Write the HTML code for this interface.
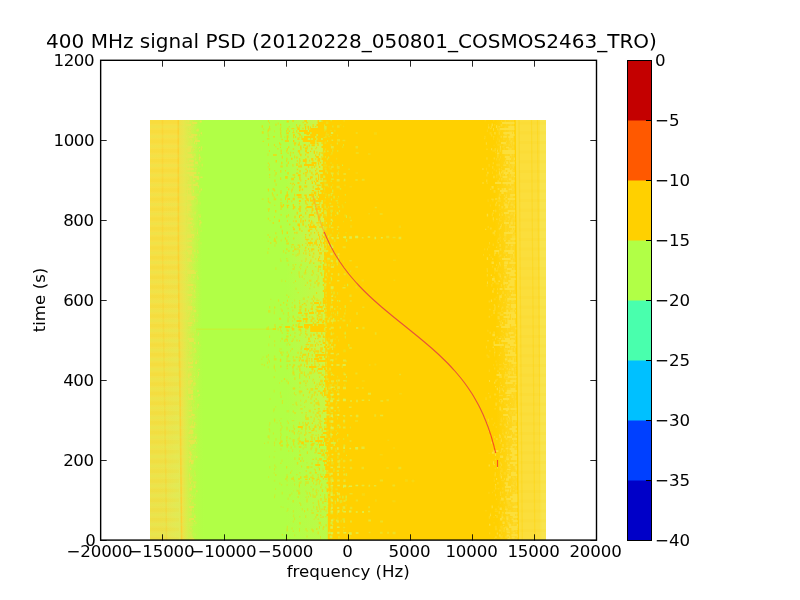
<!DOCTYPE html><html><head><meta charset="utf-8"><title>400 MHz signal PSD</title>
<style>html,body{margin:0;padding:0;background:#fff;}svg{display:block;}text{font-family:"DejaVu Sans","Liberation Sans",sans-serif;fill:#000;}</style></head><body>
<svg width="800" height="600" viewBox="0 0 800 600">
<rect x="0" y="0" width="800" height="600" fill="#fff"/>
<defs>
<clipPath id="hc"><rect x="150" y="120" width="396" height="420"/></clipPath>
<linearGradient id="lg" x1="0" y1="0" x2="0" y2="1"><stop offset="0" stop-color="#f9de44"/><stop offset="0.6" stop-color="#f4e046"/><stop offset="1" stop-color="#ece24c"/></linearGradient>
<linearGradient id="lt" x1="0" y1="0" x2="1" y2="0"><stop offset="0" stop-color="#f2e046"/><stop offset="0.25" stop-color="#e9e64c"/><stop offset="0.6" stop-color="#cdf34a"/><stop offset="0.85" stop-color="#b9fb47"/><stop offset="1" stop-color="#b1ff46"/></linearGradient>
<linearGradient id="rt" x1="0" y1="0" x2="1" y2="0"><stop offset="0" stop-color="#ffd000"/><stop offset="0.35" stop-color="#fdd618"/><stop offset="0.4" stop-color="#fbdc30"/><stop offset="0.85" stop-color="#fae038"/><stop offset="0.88" stop-color="#f5e650"/><stop offset="1" stop-color="#f4e854"/></linearGradient>
</defs>
<g clip-path="url(#hc)">
<rect x="150" y="120" width="396" height="420" fill="#ffd000"/>
<rect x="150" y="120" width="36" height="420" fill="url(#lg)"/>
<rect x="186" y="120" width="15" height="420" fill="#b1ff46"/>
<rect x="200.5" y="120" width="130" height="420" fill="#b1ff46"/>
<g transform="translate(-0.943,0) skewX(0.45)">
<rect x="515.7" y="120" width="34" height="420" fill="#fbde3c"/>
<path d="M519 120v420M531.5 120v420M537.5 120v420" stroke="#ffd000" stroke-width="1.2" stroke-opacity="0.35" fill="none"/>
</g>
<rect x="540" y="120" width="6" height="420" fill="#f7e858" opacity="0.6"/>
<linearGradient id="gt" gradientUnits="userSpaceOnUse" x1="158" y1="0" x2="178" y2="0"><stop offset="0" stop-color="#dcee5c" stop-opacity="0"/><stop offset="1" stop-color="#dcee5c" stop-opacity="0.8"/></linearGradient>
<g transform="translate(-0.943,0) skewX(0.45)">
<rect x="158" y="200" width="20" height="70" fill="url(#gt)" opacity="0.15"/>
<rect x="158" y="270" width="20" height="70" fill="url(#gt)" opacity="0.3"/>
<rect x="158" y="340" width="20" height="70" fill="url(#gt)" opacity="0.5"/>
<rect x="158" y="410" width="20" height="70" fill="url(#gt)" opacity="0.7"/>
<rect x="158" y="480" width="20" height="60" fill="url(#gt)" opacity="0.9"/>
<rect x="178" y="120" width="23" height="420" fill="url(#lt)"/>
<linearGradient id="gg" gradientUnits="userSpaceOnUse" x1="179" y1="0" x2="191" y2="0"><stop offset="0" stop-color="#b1ff46" stop-opacity="0"/><stop offset="1" stop-color="#b1ff46" stop-opacity="1"/></linearGradient>
<rect x="179" y="250" width="22" height="70" fill="url(#gg)" opacity="0.15"/>
<rect x="179" y="320" width="22" height="70" fill="url(#gg)" opacity="0.35"/>
<rect x="179" y="390" width="22" height="70" fill="url(#gg)" opacity="0.55"/>
<rect x="179" y="460" width="22" height="80" fill="url(#gg)" opacity="0.75"/>
</g>
<path d="M178.3 120L178.4 250L179 325L180 400L180.9 475L181.5 540" stroke="#ffc824" stroke-width="1.6" stroke-opacity="0.6" fill="none"/>
<path d="M162.5 120L162.6 250L163.4 325L164.6 400L165.8 475L166.5 540" stroke="#ffc828" stroke-width="1.5" stroke-opacity="0.3" fill="none"/>
<linearGradient id="du" gradientUnits="userSpaceOnUse" x1="286" y1="0" x2="326" y2="0"><stop offset="0" stop-color="#b1ff46"/><stop offset="0.5" stop-color="#cbf34a"/><stop offset="1" stop-color="#e8e848"/></linearGradient>
<rect x="286" y="120" width="44" height="142" fill="url(#du)" opacity="0.7"/>
<rect x="286" y="262" width="44" height="38" fill="url(#du)" opacity="0.4"/>
<rect x="286" y="300" width="44" height="68" fill="url(#du)" opacity="0.55"/>
<rect x="286" y="368" width="44" height="72" fill="url(#du)" opacity="0.4"/>
<rect x="286" y="440" width="44" height="100" fill="url(#du)" opacity="0.2"/>
<path d="M267.9 121.0h1.0M261.6 126.5h1.3M269.0 127.1h1.1M279.9 129.4h1.0M286.9 129.1h1.9M267.5 130.8h1.3M280.3 131.4h1.0M261.8 132.5h1.9M268.0 144.8h1.0M280.5 150.7h1.4M286.1 151.2h1.3M286.3 159.1h1.2M268.8 169.2h1.3M280.1 171.4h1.3M280.0 178.6h1.2M274.2 180.9h1.4M275.6 184.6h0.9M272.6 189.3h1.8M280.4 191.2h1.2M272.5 195.3h1.0M285.0 196.5h2.5M280.5 199.5h0.9M286.9 201.5h1.1M287.9 215.2h1.0M280.3 226.9h1.3M281.9 232.9h1.1M274.0 239.0h1.3M273.7 240.8h2.4M299.0 246.7h1.2M297.5 248.6h1.0M298.8 250.7h1.1M298.8 253.3h0.9M305.3 253.5h1.3M297.4 254.6h1.0M305.5 259.1h1.1M300.5 265.0h1.1M317.7 269.2h1.3M305.0 271.2h1.0M311.9 271.3h1.4M298.6 272.6h1.0M312.9 273.0h0.9M301.7 276.7h0.9M317.8 276.9h0.9M317.5 279.2h0.9M314.4 282.7h1.3M317.4 285.2h1.3M313.0 296.7h1.3M299.1 303.0h1.0M299.2 306.9h2.6M299.2 311.2h1.9M292.6 316.9h1.3M287.5 321.1h1.0M303.0 320.6h0.9M297.8 324.9h1.8M300.2 331.0h1.2M292.6 339.5h1.0M284.2 340.8h1.3M310.0 345.4h3.4M301.2 347.1h1.1M300.6 349.0h1.1M280.4 352.7h1.3M288.0 355.1h0.9M292.8 357.3h1.0M279.9 360.6h1.3M286.8 365.5h0.9M273.7 367.2h1.1M299.3 370.5h1.3M292.4 372.8h2.0M300.5 372.8h2.1M303.9 372.9h1.0M309.2 372.9h2.7M299.2 374.6h1.0M299.1 377.4h1.1M309.0 377.4h1.0M294.3 378.6h1.1M287.7 382.9h1.1M299.2 383.0h1.9M310.5 389.4h2.7M311.6 395.3h1.2M313.8 394.7h1.0M305.4 401.1h1.2M295.6 403.1h1.1M315.4 403.3h3.9M313.8 405.5h1.0M308.7 411.0h2.1M305.6 415.3h1.0M315.3 415.4h1.1M319.9 416.9h0.9M305.4 418.6h3.5M313.7 418.9h1.2M319.4 420.6h1.4M305.4 427.0h1.2M324.1 427.4h1.2M293.7 433.1h1.3M300.6 433.0h0.9M305.3 433.1h1.3M286.4 437.4h1.1M313.9 438.6h1.2M280.2 441.5h2.4M292.5 440.6h2.1M311.5 447.2h1.0M310.5 448.9h1.3M315.3 449.1h2.0M306.8 452.6h1.2M298.6 458.7h1.3M315.6 458.7h1.2M296.9 463.3h1.3M286.1 467.2h1.1M306.6 467.3h2.7M314.9 470.5h1.1M286.4 477.3h1.3M316.4 483.5h0.9M318.8 483.1h1.1M298.8 485.1h1.1M321.2 484.8h1.1M315.6 491.1h0.9M298.1 493.1h2.1M309.3 493.2h0.9M324.0 497.1h1.3M292.6 501.3h1.1M306.4 501.1h1.2M317.8 501.1h1.0M325.6 510.6h0.9M315.4 517.2h0.9M299.3 523.2h1.3M318.7 523.0h2.2M325.6 525.3h1.1M319.1 527.4h0.9M322.6 528.8h1.0M312.4 530.9h1.3M317.6 532.9h1.1" stroke="#ffd000" stroke-width="2.6" stroke-opacity="0.6" fill="none"/>
<path d="M286.6 121.5h2.2M304.3 121.0h2.7M280.2 124.8h1.0M296.2 124.9h0.9M296.7 127.2h1.1M308.0 129.1h1.3M286.2 131.1h0.9M280.2 133.4h1.0M286.3 133.2h2.5M298.9 134.7h2.1M294.9 137.1h1.2M286.8 139.1h1.2M284.9 141.1h4.0M279.2 143.3h0.9M293.8 143.3h2.4M294.3 144.8h1.1M297.8 144.7h1.9M288.0 147.2h1.3M290.3 152.7h0.9M289.9 155.3h0.9M299.4 161.3h1.1M309.2 160.7h0.9M300.6 165.3h0.9M298.1 166.6h3.9M299.2 179.3h1.2M300.2 180.6h1.1M304.2 186.6h3.0M288.1 189.3h1.1M299.4 189.1h1.2M280.5 192.9h0.9M297.7 197.2h4.1M311.4 196.6h2.0M287.4 198.9h2.6M304.9 201.1h1.2M280.4 205.3h1.3M280.6 206.8h2.2M311.3 212.5h1.0M300.5 219.1h1.0M308.0 224.9h1.3M305.3 226.6h1.1M293.0 229.2h2.0M301.4 230.9h1.1M296.3 232.7h1.2M308.9 235.3h1.3M305.1 237.2h0.9M284.9 238.6h1.1M311.4 239.0h1.2M306.6 240.5h1.0M316.4 245.0h1.4M308.1 249.1h1.0M311.2 249.2h3.1M313.1 253.4h1.2M316.2 281.1h1.3M316.1 293.0h1.0M312.9 301.0h1.0M294.2 307.3h1.3M310.6 308.9h2.4M317.4 309.2h0.9M304.9 310.8h1.3M308.1 310.7h0.9M298.1 313.0h3.9M315.3 312.8h1.0M316.6 315.4h2.1M311.6 316.9h1.1M311.8 318.6h2.6M298.6 329.5h2.5M305.1 333.4h1.1M316.4 333.3h1.3M306.3 334.7h1.2M312.9 334.7h2.0M322.9 335.4h0.9M310.3 336.6h1.3M314.1 341.5h0.9M314.2 349.3h1.3M315.3 351.3h3.9M317.4 352.6h1.2M302.5 354.8h3.7M298.8 360.6h1.2M301.3 360.6h2.7M314.3 363.2h1.1M311.3 364.9h1.1M314.3 365.4h1.3M311.5 369.0h2.0M316.9 370.7h0.9M313.9 382.8h1.1M321.6 383.5h1.0M322.9 384.9h1.2M305.4 424.8h2.4M317.6 425.2h1.0M308.7 426.9h1.1M319.0 427.2h2.8M321.9 429.4h1.1M317.7 437.4h1.3M305.0 439.2h1.2M298.7 441.4h2.4M304.9 441.2h4.0M317.9 442.6h1.2M305.4 444.9h0.9M319.1 446.9h0.9M323.7 450.6h1.2M322.8 453.3h1.2M324.3 457.5h1.1M317.5 462.7h1.1M324.0 462.8h0.9M309.1 478.9h0.9M323.7 509.3h1.2" stroke="#ffd000" stroke-width="2" stroke-opacity="0.8" fill="none"/>
<path d="M292.5 121.0h1.1M321.5 121.0h10.0M317.8 123.0h13.8M316.5 125.0h15.0M304.9 127.0h1.3M317.8 127.0h13.8M305.0 128.7h1.1M310.2 129.0h21.2M299.0 131.0h8.8M309.0 131.0h22.5M304.0 133.0h6.2M311.5 133.0h20.0M310.2 135.0h6.2M317.8 135.0h13.8M304.0 137.0h11.2M316.5 137.0h15.0M301.5 139.0h6.2M312.8 139.1h3.5M317.4 138.9h3.7M322.8 139.0h8.8M293.0 141.1h1.3M302.8 141.0h12.5M316.5 141.0h15.0M310.2 143.0h5.0M321.5 143.0h10.0M303.7 145.0h2.0M308.7 145.4h1.1M311.5 145.2h3.3M317.4 145.0h1.3M322.8 145.0h8.8M321.5 147.0h10.0M304.9 148.6h2.7M311.2 148.7h1.2M322.8 149.0h8.8M313.7 151.4h1.2M322.8 151.0h8.8M316.4 152.5h1.0M321.5 153.0h10.0M305.2 154.7h0.9M315.1 155.4h1.1M318.7 154.6h1.2M322.8 155.0h8.8M296.4 157.4h1.1M307.5 156.7h1.0M316.2 157.0h2.7M321.5 157.0h10.0M291.1 158.8h1.3M305.1 159.3h1.3M317.6 158.9h2.7M321.5 159.0h10.0M312.5 161.0h0.9M317.4 160.7h2.7M322.8 161.0h8.8M311.5 163.0h5.0M317.9 163.2h1.3M322.8 163.0h8.8M304.0 165.0h10.0M321.5 165.0h10.0M307.9 166.8h1.2M311.4 167.4h1.2M318.9 166.9h1.4M322.8 167.0h8.8M316.4 169.0h0.9M322.8 169.0h8.8M319.0 171.0h12.5M315.6 173.5h2.3M322.8 173.0h8.8M297.8 175.2h2.8M318.0 175.2h1.1M320.2 175.0h11.2M299.2 177.4h1.3M310.1 177.3h2.7M318.0 177.0h1.1M320.2 177.0h11.2M307.7 178.9h1.3M317.9 179.0h1.2M320.4 179.2h1.3M322.8 179.0h8.8M316.2 181.1h2.2M322.8 181.0h8.8M304.9 183.0h1.0M311.7 182.9h1.3M320.2 183.0h11.2M321.5 185.0h10.0M321.5 187.0h10.0M301.7 189.5h1.4M315.2 189.0h5.0M322.8 189.0h8.8M317.7 191.4h1.4M320.2 191.0h11.2M311.4 193.2h1.2M321.5 193.0h10.0M296.5 195.0h5.0M309.0 195.0h5.0M317.8 195.0h13.8M319.0 197.0h12.5M312.7 199.5h3.1M317.8 199.0h13.8M298.9 201.0h2.0M310.1 200.8h3.2M315.2 201.0h6.2M322.8 201.0h8.8M319.3 203.0h1.0M322.8 203.0h8.8M311.6 204.6h1.9M321.5 205.0h10.0M306.5 207.0h6.2M321.5 207.0h10.0M305.4 208.5h1.1M315.2 209.0h6.2M322.8 209.0h8.8M316.1 210.6h1.1M322.8 211.0h8.8M321.5 213.0h10.0M309.0 215.0h5.0M322.8 215.0h8.8M322.8 217.0h8.8M324.0 219.0h7.5M295.4 221.3h1.3M302.6 221.0h1.2M304.9 220.5h1.0M308.6 220.8h1.2M311.1 221.2h1.0M324.0 221.0h7.5M310.5 222.9h1.2M321.5 223.0h10.0M302.5 224.8h1.3M312.7 225.5h2.1M321.5 225.0h10.0M298.7 226.6h1.0M309.0 227.0h7.5M324.0 227.0h7.5M315.1 228.6h1.0M324.0 229.0h7.5M307.8 230.8h2.2M316.4 230.6h0.9M324.0 231.0h7.5M317.7 232.7h1.1M322.8 233.0h8.8M318.0 235.1h1.3M321.7 235.4h1.3M324.0 235.0h7.5M322.8 237.0h8.8M318.9 238.9h0.9M321.5 238.7h1.3M324.0 239.0h7.5M324.0 241.0h7.5M307.8 243.0h5.0M320.4 242.7h1.4M322.8 243.0h8.8M319.0 245.0h1.1M324.0 245.0h7.5M324.0 247.0h7.5M324.0 249.0h7.5M317.9 250.6h1.1M322.8 251.0h8.8M324.0 253.0h7.5M324.0 255.0h7.5M324.0 257.0h7.5M318.0 259.2h1.0M324.0 259.0h7.5M322.8 261.0h8.8M324.0 263.0h7.5M322.8 265.0h8.8M322.8 267.0h8.8M322.8 269.0h8.8M324.0 271.0h7.5M324.0 273.0h7.5M324.0 275.0h7.5M324.0 277.0h7.5M322.8 279.0h8.8M322.8 281.0h8.8M324.0 283.0h7.5M322.8 285.0h8.8M324.0 287.0h7.5M324.0 289.0h7.5M322.8 291.0h8.8M324.0 293.0h7.5M324.0 295.0h7.5M324.0 297.0h7.5M322.8 299.0h8.8M322.8 301.0h8.8M314.0 303.0h5.0M322.8 303.0h8.8M322.9 305.5h1.0M325.2 305.0h6.2M316.5 307.0h6.2M325.2 307.0h6.2M324.0 309.0h7.5M316.5 311.0h7.5M325.2 311.0h6.2M309.0 313.0h5.0M324.0 313.0h7.5M325.2 315.0h6.2M325.2 317.0h6.2M302.8 319.0h5.0M318.6 319.5h3.8M324.0 319.0h7.5M296.5 321.0h5.0M322.8 321.0h8.8M321.9 322.6h2.2M325.2 323.0h6.2M304.0 325.0h8.8M317.8 325.0h13.8M285.2 327.0h5.0M297.8 327.0h5.0M304.0 327.0h5.0M310.2 327.0h21.2M310.2 329.0h21.2M310.2 331.0h21.2M325.2 333.0h6.2M317.5 335.5h2.3M325.2 335.0h6.2M322.8 337.0h8.8M325.2 339.0h6.2M325.2 341.0h6.2M322.8 343.0h8.8M325.2 345.0h6.2M324.0 347.0h7.5M304.0 349.0h5.0M325.2 349.0h6.2M325.2 351.0h6.2M325.2 353.0h6.2M315.2 355.0h16.2M318.8 357.4h3.4M324.0 357.0h7.5M314.0 359.0h5.0M325.2 359.0h6.2M316.5 361.0h15.0M325.2 363.0h6.2M325.2 365.0h6.2M309.0 367.0h7.5M321.5 367.0h10.0M317.8 369.0h5.0M324.0 369.0h7.5M325.2 371.0h6.2M325.2 373.0h6.2M325.2 375.0h6.2M324.0 377.0h7.5M325.2 379.0h6.2M324.0 381.0h7.5M325.2 383.0h6.2M325.2 385.0h6.2M325.2 387.0h6.2M324.0 389.0h7.5M322.8 391.0h8.8M324.0 393.0h7.5M324.0 395.0h7.5M326.5 397.0h5.0M326.5 399.0h5.0M325.2 401.0h6.2M326.5 403.0h5.0M325.2 405.0h6.2M326.5 407.0h5.0M326.5 409.0h5.0M322.8 411.0h8.8M326.5 413.0h5.0M326.5 415.0h5.0M326.5 417.0h5.0M324.0 419.0h7.5M325.2 421.0h6.2M324.0 423.0h7.5M326.5 425.0h5.0M297.8 427.0h5.0M326.5 427.0h5.0M324.0 429.0h7.5M326.5 431.0h5.0M322.8 433.0h8.8M326.5 435.0h5.0M320.2 437.0h5.0M326.5 437.0h5.0M324.0 439.0h7.5M315.2 441.0h7.5M324.0 441.0h7.5M325.2 443.0h6.2M319.0 445.0h5.0M325.2 445.0h6.2M326.5 447.0h5.0M326.5 449.0h5.0M326.5 451.0h5.0M325.2 453.0h6.2M326.5 455.0h5.0M326.5 457.0h5.0M326.5 459.0h5.0M322.8 461.0h8.8M326.5 463.0h5.0M315.2 465.0h5.0M324.0 465.0h7.5M325.2 467.0h6.2M325.2 469.0h6.2M326.5 471.0h5.0M326.5 473.0h5.0M325.2 475.0h6.2M324.0 477.0h7.5M327.8 479.0h3.8M327.8 481.0h3.8M326.5 483.0h5.0M327.8 485.0h3.8M327.8 487.0h3.8M326.5 489.0h5.0M326.5 491.0h5.0M327.8 493.0h3.8M327.8 495.0h3.8M327.8 497.0h3.8M327.8 499.0h3.8M327.8 501.0h3.8M327.8 503.0h3.8M327.8 505.0h3.8M327.8 507.0h3.8M327.8 509.0h3.8M327.8 511.0h3.8M327.8 513.0h3.8M326.5 515.0h5.0M327.8 517.0h3.8M327.8 519.0h3.8M327.8 521.0h3.8M327.8 523.0h3.8M327.8 525.0h3.8M327.8 527.0h3.8M327.8 529.0h3.8M327.8 531.0h3.8M327.8 533.0h3.8M327.8 535.0h3.8M327.8 537.0h3.8M327.8 539.0h3.8" stroke="#ffd000" stroke-width="2" stroke-opacity="1.0" fill="none"/>
<path d="M317.6 121.4h1.3M307.6 127.0h1.3M297.4 128.8h2.3M310.1 138.5h1.2M300.2 146.9h1.2M305.1 151.0h1.8M313.8 152.7h1.1M300.2 155.0h1.3M311.2 159.3h2.1M302.8 160.6h3.9M305.3 163.2h1.2M296.3 164.6h1.3M315.3 165.3h1.0M313.8 166.7h1.0M311.3 173.0h1.2M305.4 175.4h1.1M315.6 179.0h1.3M315.1 183.4h1.1M298.9 186.8h2.4M313.7 192.9h2.6M305.4 197.4h1.4M316.5 197.5h1.2M306.3 199.5h2.3M310.2 198.9h0.9M305.4 203.0h1.1M312.7 202.7h2.5M317.4 207.4h2.6M311.7 209.4h1.8M299.4 210.7h1.3M319.4 210.8h1.4M316.4 213.2h1.1M319.3 214.9h2.5M299.0 216.6h1.1M317.8 217.0h2.9M318.1 219.3h0.9M300.3 221.4h1.1M297.5 224.7h2.4M310.1 225.2h1.2M319.1 237.4h1.1M315.4 241.0h1.3M319.9 249.2h1.2M314.1 324.8h2.5M321.2 333.5h1.2M314.9 345.4h1.0M314.2 352.5h1.0M311.3 359.2h1.0M301.2 442.9h2.6" stroke="#ffd000" stroke-width="2.6" stroke-opacity="1.0" fill="none"/>
<path d="M269.0 122.8h0.9M280.2 127.1h1.2M288.7 126.6h1.1M280.6 135.0h1.0M273.0 136.8h2.0M284.3 137.1h0.9M266.9 138.8h2.5M262.6 141.4h1.4M275.3 146.6h1.0M267.8 163.3h1.0M274.2 170.8h1.0M269.0 174.8h1.2M267.7 189.2h1.3M273.7 197.3h1.0M269.2 202.7h1.3M280.0 202.9h2.2M274.3 205.4h0.9M269.2 237.2h1.1M287.8 236.9h1.0M291.4 244.7h2.5M293.8 247.0h1.3M304.9 248.8h1.2M304.3 250.8h2.1M308.8 253.5h1.0M292.5 254.5h1.0M286.4 258.6h0.9M315.0 258.9h1.2M304.9 261.4h1.1M295.1 264.6h1.1M314.9 266.6h1.4M300.2 268.6h0.9M319.9 269.5h1.1M317.6 271.4h1.3M303.7 278.9h0.9M295.0 281.2h1.0M304.9 285.4h1.0M313.6 287.1h1.1M297.7 292.6h0.9M307.6 297.1h1.3M316.6 298.9h1.0M299.2 300.6h0.9M316.2 300.5h3.2M283.0 302.8h1.2M305.6 305.3h1.3M287.6 308.5h0.9M298.9 309.4h2.4M287.7 312.8h1.1M301.5 315.5h1.9M306.1 317.1h1.2M318.1 316.7h2.7M281.7 333.0h1.0M286.9 333.4h1.4M300.4 333.4h1.2M290.0 335.3h1.0M305.0 337.1h1.2M285.3 339.3h2.4M291.2 341.2h1.8M298.9 340.8h1.2M306.8 343.0h0.9M289.1 344.8h1.3M299.9 355.4h1.1M295.6 357.3h2.1M306.3 356.9h2.4M286.3 361.1h4.1M289.2 364.8h1.4M286.7 368.6h1.2M296.6 369.1h1.0M312.7 373.0h0.9M312.7 379.4h1.3M312.5 380.8h0.9M305.2 383.2h1.3M305.3 385.5h1.1M317.9 386.6h1.0M306.8 389.3h1.3M317.9 391.2h2.4M308.8 392.8h1.3M295.2 394.9h1.1M307.9 397.1h1.2M322.9 396.8h1.3M304.1 402.5h1.0M310.2 403.0h2.1M304.1 406.9h1.2M300.3 408.9h2.4M317.7 411.2h3.0M301.4 412.7h1.3M305.6 412.6h1.2M317.8 419.4h1.1M313.1 421.2h1.4M318.6 422.9h2.2M315.2 424.9h0.9M298.1 431.3h1.2M305.0 430.9h0.9M315.5 431.1h1.4M308.6 432.6h2.7M311.4 434.9h2.4M289.4 438.5h1.1M286.3 445.0h2.7M314.4 452.8h1.3M317.5 460.5h1.3M310.4 467.1h2.1M317.7 467.1h1.1M313.9 469.2h0.9M322.6 469.1h0.9M305.5 471.0h1.4M322.6 470.7h1.2M296.4 474.6h1.0M305.6 475.4h1.8M322.8 474.7h0.9M310.2 477.3h3.4M315.6 480.7h2.1M319.1 481.0h2.0M315.5 484.8h1.0M316.2 492.6h1.2M320.0 495.2h1.0M324.2 494.7h1.1M297.6 497.0h1.2M324.3 499.3h2.6M316.3 509.3h1.4M321.4 509.2h1.3M320.1 515.2h1.3M320.4 517.4h1.2M325.3 516.6h1.3M317.8 519.2h1.0" stroke="#ffd000" stroke-width="1.4" stroke-opacity="0.6" fill="none"/>
<path d="M277.7 123.4h0.9M275.3 124.8h1.3M280.4 136.8h1.4M273.9 144.9h1.1M279.9 144.6h1.4M268.9 150.9h1.0M273.0 155.0h3.8M286.1 161.1h0.9M280.3 166.6h2.5M292.7 187.2h1.0M291.7 189.5h1.2M267.9 190.6h1.2M274.0 190.6h1.3M271.8 193.2h1.1M267.7 198.7h1.2M273.7 199.3h2.5M267.9 201.4h1.3M291.2 201.3h1.2M280.5 208.9h1.2M268.1 210.7h1.1M274.1 216.9h0.9M267.8 218.7h1.1M272.6 222.9h1.3M281.6 230.7h1.3M275.3 233.2h1.1M267.6 235.1h0.9M293.1 238.5h1.2M270.3 243.0h1.0M286.3 243.4h2.7M301.9 245.1h1.1M286.1 249.3h1.4M294.0 249.3h2.6M292.6 251.1h1.3M303.0 253.2h1.0M320.1 273.0h1.9M309.2 280.8h2.2M306.8 282.7h1.1M317.4 283.3h2.4M311.6 298.9h1.1M314.1 298.6h1.1M286.9 300.8h1.1M310.2 303.3h2.6M286.1 304.8h1.2M274.1 307.4h1.2M281.4 310.7h1.4M292.4 310.6h0.9M297.5 317.3h1.0M309.2 316.9h1.1M279.0 318.7h2.1M294.0 319.2h1.2M299.3 318.6h1.2M279.2 327.0h2.6M291.3 327.4h1.8M272.8 329.1h3.3M280.6 331.0h1.0M286.6 330.8h2.4M299.4 334.9h1.1M286.2 336.5h2.3M294.2 336.8h1.1M281.5 338.8h1.2M286.6 340.8h1.3M296.4 340.5h1.2M309.1 347.4h1.1M291.7 349.0h1.1M309.0 350.7h1.9M297.4 352.8h1.3M281.5 354.9h1.1M286.6 356.5h1.8M298.8 357.5h1.1M293.1 360.6h2.5M292.9 365.3h2.2M280.1 366.5h1.4M297.7 366.5h2.7M299.1 368.7h1.2M292.7 370.6h0.9M311.9 370.6h0.9M317.8 373.0h4.1M303.9 374.9h1.3M307.5 374.6h1.2M305.5 376.6h1.3M283.9 378.9h1.2M306.7 381.3h1.1M316.6 384.6h1.0M315.1 386.6h1.2M292.7 388.6h2.5M298.8 391.4h3.4M309.1 391.4h1.2M313.9 392.5h2.3M302.8 395.2h1.2M316.8 394.8h1.1M311.3 397.0h1.1M310.5 398.7h1.0M315.5 399.0h1.2M313.8 401.1h1.2M317.7 401.2h1.0M317.8 404.8h1.9M292.7 411.4h1.2M294.3 413.1h1.4M316.5 412.9h2.8M321.8 412.8h1.1M318.8 415.4h2.2M305.0 416.8h0.9M310.5 416.9h1.2M316.7 416.9h1.0M302.4 422.8h1.2M305.0 423.0h1.0M307.6 423.1h1.4M293.9 428.9h1.0M305.2 428.9h1.4M309.2 429.1h1.3M289.1 430.7h1.0M304.1 435.0h1.4M298.7 437.4h1.0M310.5 436.8h2.2M286.2 440.8h1.1M279.0 443.2h2.0M293.0 443.0h1.1M297.7 443.4h1.8M280.3 445.5h2.7M293.0 444.6h1.3M286.7 446.8h1.1M298.8 447.0h2.6M299.2 454.9h1.9M300.1 460.9h1.3M302.9 460.9h0.9M311.5 463.5h1.2M301.2 466.5h0.9M290.2 472.7h1.0M309.4 472.8h2.0M292.8 477.4h1.0M303.8 476.9h3.9M285.4 479.1h0.9M291.2 478.7h2.7M298.1 479.1h2.0M311.8 480.9h1.3M313.1 483.2h0.9M320.2 487.3h1.4M325.2 487.4h1.0M316.2 494.5h1.1M318.0 504.5h1.4M316.2 507.3h1.3M323.7 507.1h2.2M319.4 509.1h0.9M304.0 511.2h1.1M316.2 515.0h1.9M322.5 516.9h1.2M323.1 527.0h1.2M311.4 529.4h1.2M316.2 529.0h1.2" stroke="#ffd000" stroke-width="2" stroke-opacity="0.6" fill="none"/>
<path d="M302.6 122.5h1.1M299.2 125.4h1.3M304.2 124.7h2.0M298.7 127.0h1.2M291.5 128.6h2.7M288.8 131.3h1.3M293.0 131.0h1.0M292.4 132.6h2.0M297.6 133.4h2.2M281.5 139.5h1.2M280.0 147.4h1.0M303.1 147.3h1.1M277.4 148.8h1.0M292.8 149.0h1.3M280.6 153.2h1.4M287.6 153.3h1.0M292.7 152.8h1.1M296.8 161.0h1.1M296.8 169.5h1.3M285.0 170.8h0.9M296.2 173.3h2.0M303.0 173.5h1.3M292.6 175.0h2.5M312.5 174.9h1.2M294.1 177.2h1.0M290.1 183.4h1.2M292.5 183.4h1.4M291.8 184.6h0.9M286.5 187.4h1.2M276.7 195.0h1.0M302.4 198.8h1.0M298.9 203.5h1.1M286.6 205.4h2.5M292.7 208.7h1.3M298.1 209.0h2.6M311.7 210.8h1.3M280.6 214.9h1.0M314.1 216.5h1.0M286.9 221.0h1.0M292.9 221.1h1.2M289.1 224.5h1.3M292.6 227.4h1.2M309.1 229.3h3.2M294.2 232.7h1.2M305.1 234.6h1.2M305.3 239.4h3.9M316.6 239.1h1.4M305.5 243.4h0.9M297.6 245.1h2.0M306.9 245.0h1.1M309.1 245.0h1.8M291.2 247.1h1.0M305.1 247.4h1.4M309.0 255.3h1.4M317.7 260.7h3.8M313.0 263.3h1.3M311.5 275.0h1.1M303.7 303.5h1.8M294.3 305.4h1.1M301.9 304.6h1.3M312.7 304.9h1.1M311.9 311.5h1.2M304.2 313.5h3.7M314.4 321.0h1.3M299.2 323.1h0.9M292.7 325.2h1.3M305.1 328.8h3.2M305.1 331.2h1.3M308.1 341.3h2.6M318.8 341.5h1.9M316.2 343.1h1.3M305.6 344.6h3.6M317.5 344.8h1.3M320.1 344.6h1.9M305.5 347.0h1.3M306.5 350.6h1.2M313.0 351.1h1.3M308.1 353.4h1.1M308.6 360.9h1.3M311.3 361.2h1.3M314.1 361.2h1.2M321.4 375.0h2.3M319.2 377.1h1.0M318.9 383.1h1.4M318.8 384.8h2.7M321.8 386.8h1.0M314.9 388.8h2.9M314.4 409.4h1.3M317.8 408.7h2.0M323.8 408.9h0.9M321.3 421.4h0.9M311.8 423.3h1.1M318.8 429.0h1.0M311.4 430.6h2.3M321.6 431.0h1.0M315.6 435.4h0.9M317.9 434.9h1.0M321.4 434.8h1.4M311.5 443.5h3.2M303.1 444.9h1.3M316.6 444.6h1.2M317.6 453.3h3.5M312.5 459.4h1.3M314.9 472.7h2.0M317.5 474.7h1.0M317.7 477.1h1.3M305.0 479.4h2.6M311.8 478.8h2.7M316.5 479.3h2.8M322.9 478.8h1.1M325.4 479.3h1.0M324.3 501.3h2.1M317.4 511.3h1.2" stroke="#ffd000" stroke-width="1.4" stroke-opacity="0.8" fill="none"/>
<path d="M306.3 122.8h1.4M312.5 125.0h1.3M309.9 127.3h1.0M312.5 126.6h1.2M315.3 126.6h1.0M302.4 128.5h1.2M293.0 135.0h2.0M306.5 134.6h2.7M299.4 137.1h0.9M316.6 143.3h1.9M316.2 147.4h0.9M315.4 148.6h1.0M310.0 151.4h1.2M306.4 152.7h2.6M319.3 152.7h1.1M315.2 159.0h1.0M319.9 162.5h1.3M318.1 164.9h1.1M305.4 169.2h1.2M315.0 170.7h1.3M305.0 172.9h2.3M315.0 174.6h1.2M309.9 178.8h1.3M305.2 180.8h1.2M311.6 181.2h0.9M313.8 181.5h1.2M297.4 183.0h2.1M293.9 184.7h1.0M316.6 185.2h4.1M317.6 187.2h1.3M299.0 190.5h1.4M311.8 190.6h2.2M318.1 193.5h0.9M304.3 195.2h2.4M314.9 195.2h1.2M307.9 200.8h1.0M306.6 204.5h1.1M315.6 204.8h4.1M314.9 206.6h1.0M306.4 210.9h1.2M314.2 213.0h1.3M299.9 215.2h2.1M302.5 216.9h1.2M318.0 220.9h0.9M316.3 222.9h3.4M317.6 225.1h1.0M319.2 227.0h2.7M314.0 232.8h1.1M310.3 241.1h1.0M318.1 247.3h1.2M309.1 251.1h1.1M315.6 309.5h1.1M318.0 320.7h1.2M320.6 321.0h0.9M316.5 322.5h2.7M314.9 338.6h1.1M317.4 338.6h1.1M320.0 351.0h2.3M321.6 352.6h2.6M315.3 356.7h2.6M308.7 358.7h1.1M320.0 358.7h2.2M317.7 362.9h0.9M318.7 364.9h1.3M322.5 365.3h0.9M306.1 366.7h1.3M317.6 366.6h1.0M309.9 441.4h3.0M323.0 442.8h1.0M310.6 445.0h3.2M320.6 476.8h2.2" stroke="#ffd000" stroke-width="1.4" stroke-opacity="1.0" fill="none"/>
<path d="M262.9 129.1h1.3M267.4 132.6h0.9M268.0 136.5h1.2M269.0 177.4h1.2M261.8 199.1h1.8M269.4 220.6h1.3M267.7 241.2h1.0M267.9 248.8h1.2M299.2 267.3h1.0M291.1 272.8h1.0M316.3 274.7h1.0M285.0 281.3h1.0M309.2 288.5h1.1M286.2 295.2h1.2M291.8 302.8h1.1M291.4 307.4h1.2M280.6 309.0h1.0M289.0 317.1h0.9M281.5 324.6h1.2M280.1 341.0h0.9M287.9 343.1h1.2M278.9 351.1h1.3M262.7 357.1h0.9M261.4 364.5h1.3M273.8 365.2h1.1M286.5 366.9h1.0M292.5 374.7h2.5M281.1 381.0h1.3M299.3 387.3h1.0M281.8 400.6h1.3M292.5 404.6h1.2M300.4 405.3h0.9M286.9 421.2h1.3M291.7 420.6h2.5M280.5 425.4h1.3M293.0 425.4h1.1M302.7 425.2h1.4M280.0 433.3h1.3M280.5 435.0h1.4M268.7 438.7h1.0M280.1 439.0h1.2M264.0 443.4h1.0M304.2 447.1h2.6M288.1 451.0h1.2M280.2 463.2h1.3M306.6 462.9h0.9M291.1 470.9h1.3M273.8 473.0h0.9M299.2 472.8h1.3M311.9 475.3h1.8M281.1 484.9h1.1M310.5 486.7h1.3M275.0 489.0h1.0M305.4 491.3h1.0M317.9 490.8h0.9M305.5 497.3h1.1M307.8 496.8h1.2M306.6 499.1h1.3M286.5 511.1h1.0M311.2 510.5h1.2M292.9 516.6h0.9M299.3 516.8h1.0M313.7 519.2h1.0M320.4 525.3h1.2M292.7 531.2h1.3M298.9 531.0h1.1M281.7 534.8h1.3" stroke="#ffd000" stroke-width="1.4" stroke-opacity="0.4" fill="none"/>
<path d="M268.0 129.4h2.4M267.7 134.7h1.2M267.5 154.6h1.0M268.9 165.1h1.1M276.2 237.3h1.1M275.6 242.8h1.3M274.3 245.5h1.1M282.9 251.4h1.2M267.4 252.6h0.9M295.6 255.5h1.1M292.6 265.2h1.1M275.4 268.6h0.9M303.8 273.1h2.5M298.7 275.2h0.9M299.1 276.8h1.1M310.1 284.9h1.1M295.5 288.8h1.0M302.8 298.7h2.1M277.9 300.5h1.2M306.6 301.3h1.1M269.1 307.2h1.1M268.1 311.4h2.3M273.8 312.9h1.0M287.7 314.9h1.2M287.5 318.5h1.1M274.2 325.4h1.4M267.8 327.3h1.0M266.3 328.6h2.7M277.5 329.1h1.3M280.0 328.9h1.0M269.1 336.7h1.0M274.2 345.2h1.0M286.6 344.5h0.9M286.7 352.5h1.2M267.9 355.2h1.0M266.2 356.7h1.2M273.8 359.3h2.7M268.8 361.5h1.2M266.9 362.8h1.1M286.3 380.7h1.1M279.9 393.1h0.9M293.9 393.2h1.1M280.5 396.6h1.1M281.8 402.6h1.2M273.7 409.2h0.9M274.0 420.9h1.2M269.4 423.3h0.9M298.9 423.1h1.1M281.4 427.2h1.1M280.4 429.2h1.0M286.5 428.9h1.2M291.5 431.2h2.4M267.6 436.6h2.0M275.4 439.4h1.1M297.5 439.4h2.2M273.9 442.8h1.2M290.6 447.5h1.3M291.9 450.6h1.3M299.2 451.3h1.0M294.2 458.6h1.3M301.7 458.5h1.2M281.5 460.7h0.9M274.0 469.2h1.0M293.6 480.8h1.2M305.3 482.6h3.6M304.9 484.6h1.0M298.8 486.9h1.0M312.5 490.5h0.9M281.7 493.1h1.0M306.5 493.3h1.3M289.3 495.2h1.2M310.0 495.4h1.1M312.4 495.0h1.2M312.6 496.6h3.5M287.6 498.7h1.0M317.9 502.5h1.3M300.1 504.8h1.2M313.1 507.1h1.0M318.7 506.7h1.4M287.4 509.4h0.9M301.8 509.2h1.0M306.9 509.5h1.3M292.8 511.4h1.1M305.0 516.6h1.2M294.0 518.9h1.1M286.6 529.1h1.2M299.1 529.3h0.9M305.4 529.3h1.3M320.0 537.2h1.0" stroke="#ffd000" stroke-width="2.6" stroke-opacity="0.4" fill="none"/>
<path d="M274.1 131.3h0.9M267.8 166.9h0.9M274.4 175.4h1.2M267.7 208.9h2.3M280.5 240.6h1.3M287.9 251.1h1.9M285.2 253.0h1.2M280.4 260.9h1.1M286.4 260.8h2.0M301.3 261.0h1.1M287.8 264.7h1.0M293.8 267.3h1.2M306.7 267.0h1.3M292.4 269.1h2.3M305.3 269.5h1.3M288.0 296.9h1.2M294.2 300.5h0.9M280.0 304.9h1.3M282.9 313.4h1.3M291.9 320.9h1.2M275.1 326.9h0.9M286.4 329.5h1.1M294.3 333.1h1.3M274.0 341.2h1.2M290.0 350.8h1.1M282.4 352.6h1.2M273.9 356.6h1.3M267.9 359.3h1.0M280.0 359.4h1.1M286.5 359.1h1.0M263.8 365.3h1.2M267.7 367.3h0.9M273.7 377.2h1.3M303.0 381.3h2.4M299.4 393.3h1.1M300.1 400.8h1.1M296.3 405.1h1.1M312.8 412.6h1.3M280.0 423.3h1.3M287.7 422.9h1.3M286.5 427.5h0.9M292.9 427.2h1.3M268.6 429.0h1.1M272.9 433.4h1.0M297.4 433.3h0.9M298.9 434.6h0.9M280.0 437.1h1.2M267.6 442.6h1.0M286.8 443.1h1.2M273.9 445.2h1.1M294.3 446.7h1.2M302.6 448.5h1.3M274.2 465.4h1.1M275.1 475.1h1.3M286.6 475.1h0.9M286.6 480.5h1.0M300.6 481.4h0.9M279.4 483.5h1.0M298.9 482.8h2.5M294.0 484.6h1.1M312.7 489.0h1.3M316.3 489.4h1.0M296.5 490.8h3.0M274.0 497.3h1.0M299.2 503.0h1.2M312.6 502.9h1.2M320.1 511.3h1.3M311.4 513.1h2.5M292.8 521.4h1.0M286.8 526.8h1.2M291.5 528.6h1.1M286.6 530.8h1.2M306.6 530.9h1.0M294.3 535.3h0.9M306.4 536.5h1.3M286.8 539.1h1.0" stroke="#ffd000" stroke-width="2" stroke-opacity="0.4" fill="none"/>
<path d="M296.3 131.4h0.9M286.6 136.6h1.9M293.1 137.0h0.9M301.2 136.7h1.1M297.4 138.7h2.0M298.8 143.1h1.0M306.6 146.7h1.3M286.8 149.2h1.1M300.3 149.0h1.3M297.8 151.2h2.3M299.1 153.1h1.0M281.7 157.1h1.1M294.2 156.9h0.9M299.2 159.2h1.0M275.6 161.2h1.3M281.2 163.0h1.2M287.7 162.8h1.1M298.8 163.1h0.9M286.5 165.5h1.0M292.5 165.3h0.9M299.3 171.3h1.4M306.7 171.2h1.3M309.4 171.3h1.1M275.6 173.4h0.9M287.4 173.3h1.3M285.1 177.4h2.6M291.2 179.0h2.7M312.7 187.1h1.1M291.3 191.1h0.9M286.7 192.6h1.1M286.3 195.3h2.1M294.2 195.1h0.9M285.0 198.7h1.0M292.8 199.0h2.0M282.8 205.3h1.3M292.7 205.2h1.3M286.9 206.9h1.3M293.0 207.3h2.3M299.1 207.1h2.1M275.2 211.3h1.1M296.6 213.1h1.3M305.1 213.3h1.1M286.3 216.5h0.9M294.4 217.0h1.2M308.7 216.6h1.1M278.6 220.7h1.3M302.4 223.0h1.2M312.4 222.7h0.9M299.0 229.2h1.4M286.6 232.7h1.3M310.6 233.2h0.9M286.3 240.7h1.2M320.0 241.1h1.0M314.0 243.1h3.0M312.5 245.2h1.0M321.3 245.4h0.9M311.3 250.5h1.1M319.1 253.3h2.9M312.5 256.7h0.9M318.9 257.2h1.3M310.3 260.9h1.1M309.3 262.7h1.0M320.4 262.7h1.0M318.1 266.7h3.1M321.1 274.8h1.3M320.0 302.9h1.3M318.9 305.0h1.1M311.4 306.8h1.3M304.9 309.4h1.4M321.4 309.1h1.1M318.0 313.4h2.7M305.4 315.3h1.9M321.4 315.1h1.1M321.4 317.1h1.0M316.8 318.6h1.2M305.4 321.4h2.0M310.5 320.6h1.9M312.8 323.0h1.2M295.6 325.4h1.0M291.9 329.2h2.4M310.5 334.8h1.0M317.8 336.5h3.1M308.0 338.8h1.9M322.4 340.9h1.2M311.2 349.4h1.3M320.2 348.6h2.7M300.5 352.7h1.1M307.8 354.7h1.2M311.7 355.2h1.0M301.8 356.6h1.3M299.9 358.5h0.9M306.4 359.0h1.3M305.3 361.0h2.5M306.5 363.4h1.3M300.4 365.0h1.3M304.1 365.4h0.9M292.4 367.2h1.2M313.9 371.1h1.3M320.2 381.0h2.5M320.0 393.0h2.7M321.7 394.7h1.2M320.1 424.5h1.0M314.3 426.8h2.1M301.3 428.5h1.2M312.7 429.2h1.9M311.4 438.9h1.1M317.6 438.8h1.4M320.5 443.2h1.3M315.5 451.1h1.1M320.5 450.6h2.6M321.4 455.0h3.4M319.2 459.2h2.6M318.9 469.1h1.1M320.3 475.1h1.0M300.1 477.5h1.3M321.8 490.6h1.3M320.5 499.4h1.0M322.4 502.5h1.1" stroke="#ffd000" stroke-width="2.6" stroke-opacity="0.8" fill="none"/>
<path d="M279.9 259.3h1.0M274.9 370.7h1.1M279.0 383.0h1.0M269.4 399.0h1.2M268.8 425.5h1.1M279.9 430.7h1.3M268.9 456.8h0.9M273.6 457.2h1.2M268.0 476.9h1.1M273.9 480.8h1.3M286.5 485.0h1.3M274.2 495.2h1.3M293.0 515.2h1.2" stroke="#ffd000" stroke-width="2" stroke-opacity="0.25" fill="none"/>
<path d="M281.2 280.7h1.1M268.1 344.9h1.2M273.6 391.1h1.3M273.0 411.0h1.2M286.5 411.2h2.7M273.9 419.5h1.4M269.1 430.9h1.2M280.3 449.3h1.3M269.0 467.2h1.3M275.3 467.3h1.0M291.2 493.5h1.1" stroke="#ffd000" stroke-width="2.6" stroke-opacity="0.25" fill="none"/>
<path d="M293.0 282.6h1.2M270.1 299.4h1.2M273.8 310.5h1.0M279.3 349.0h2.7M261.1 359.2h1.2M274.0 369.0h1.1M275.0 406.7h1.2M280.4 418.6h1.3M279.0 420.6h1.1M276.4 422.7h1.2M274.3 451.4h1.1M293.0 490.7h0.9M280.6 506.8h1.0M282.6 507.4h1.1" stroke="#ffd000" stroke-width="1.4" stroke-opacity="0.25" fill="none"/>
<g transform="translate(-0.943,0) skewX(0.45)"><path d="M187.4 121.4h2.1M193.8 142.6h1.1M200.6 149.1h0.9M187.0 150.8h3.8M186.2 153.4h0.9M198.5 159.1h1.0M194.8 162.7h2.9M201.3 165.1h1.0M185.7 167.4h0.9M188.6 167.5h0.9M197.2 186.5h1.2M192.5 191.4h1.0M186.1 192.8h1.4M186.2 209.4h3.7M186.4 211.4h1.2M193.8 212.9h1.1M198.5 224.5h1.1M196.0 232.9h1.1M193.2 250.8h1.1M186.9 253.1h4.0M186.0 259.1h3.5M192.0 276.9h1.3M193.6 286.8h0.9M192.5 290.9h1.3M189.6 301.2h0.9M192.2 311.0h2.5M185.8 318.9h1.0M192.2 320.9h1.3M196.2 343.1h1.0M188.7 353.0h0.9M193.2 362.7h2.0M185.7 374.8h3.8M185.7 376.8h1.9M185.7 382.8h3.8M191.9 423.4h1.1M192.4 437.5h1.8M186.3 452.8h2.4M187.2 458.8h1.1M188.2 463.0h2.6M186.4 489.1h2.7M187.3 509.1h1.4M191.1 516.8h1.4" stroke="#ece44c" stroke-width="2.6" stroke-opacity="0.8" fill="none"/>
<path d="M192.1 121.3h0.9M192.4 125.1h2.2M186.1 126.9h3.8M188.2 131.4h2.3M187.0 135.5h2.3M189.4 139.3h2.5M189.4 145.2h1.3M186.3 158.7h1.2M185.6 182.9h1.0M188.7 200.6h1.2M196.0 230.7h1.1M193.7 232.9h1.3M188.6 244.7h1.0M192.5 261.3h1.2M195.7 260.8h0.9M194.5 271.3h1.8M187.2 282.6h1.9M192.1 295.0h1.2M186.3 311.3h2.7M189.5 310.8h1.3M185.7 316.6h2.7M187.1 320.6h1.3M187.1 330.6h1.0M193.4 331.5h1.1M188.8 336.8h1.3M185.8 350.6h2.2M186.1 356.9h2.6M189.6 371.4h1.0M186.3 378.7h3.8M190.9 385.3h2.4M186.2 386.9h2.5M187.1 404.5h1.3M186.0 424.8h0.9M186.3 438.6h2.6M188.2 444.8h1.9M186.3 446.5h1.8M189.4 449.4h2.3M191.3 471.1h1.2M191.9 475.2h1.3M186.1 481.0h3.8M188.8 484.5h1.0M192.2 493.2h1.0M186.0 498.7h3.8M191.0 504.6h1.8M186.2 510.8h2.7M185.8 527.1h0.9M188.5 530.9h1.2" stroke="#ece44c" stroke-width="1.4" stroke-opacity="0.5" fill="none"/>
<path d="M197.5 120.7h1.2M192.4 129.3h1.1M190.0 133.3h1.3M201.4 135.0h1.0M188.3 140.7h0.9M196.1 151.2h1.2M196.4 157.3h0.9M188.9 158.7h0.9M200.0 169.0h1.2M189.8 171.0h1.2M190.8 182.6h1.0M190.9 212.8h1.2M195.7 221.4h1.0M198.8 226.9h2.1M192.2 231.1h0.9M196.2 247.3h1.1M190.6 262.9h2.2M192.6 275.1h2.7M192.1 279.4h1.0M188.5 293.5h1.0M186.1 299.2h1.1M192.0 314.7h1.1M191.9 323.1h2.0M190.0 333.1h1.9M193.1 333.0h1.2M192.4 344.7h1.4M191.1 355.2h2.0M191.9 367.3h1.0M194.4 396.5h2.4M191.0 402.5h1.4M186.1 415.0h1.3M189.8 418.8h3.0M187.3 421.3h0.9M187.2 429.3h2.6M185.9 435.4h1.3M194.7 440.8h0.9M192.6 452.8h1.0M190.7 498.5h1.0M185.6 525.2h4.1" stroke="#ece44c" stroke-width="1.4" stroke-opacity="0.3" fill="none"/>
<path d="M199.7 121.4h2.0M192.2 123.0h5.0M186.0 125.0h5.0M197.3 129.4h1.2M196.2 130.5h2.5M200.6 133.3h1.2M191.0 135.0h6.2M188.5 137.0h5.0M194.8 141.0h5.0M195.9 143.4h1.1M186.0 145.4h0.9M187.2 147.0h5.0M201.1 147.2h0.9M186.0 149.0h5.0M186.0 155.0h6.2M186.0 157.0h7.5M198.5 157.5h2.0M195.0 159.2h1.0M185.9 161.5h1.3M188.5 161.0h5.0M186.0 165.0h7.5M186.0 169.0h7.5M186.0 173.0h10.0M188.5 175.0h5.0M192.2 177.0h6.2M196.1 178.7h2.7M186.0 185.0h5.0M192.2 185.0h5.0M189.5 187.5h0.9M186.0 189.0h5.0M200.1 189.4h1.3M198.7 191.5h1.1M186.0 195.0h5.0M186.0 197.0h8.8M186.0 199.0h7.5M186.0 205.0h5.0M186.0 206.7h3.1M186.1 215.2h1.1M187.2 219.0h5.0M186.0 223.0h5.0M198.8 222.6h2.0M185.8 225.3h1.1M186.0 235.0h7.5M186.0 237.0h5.0M192.0 237.3h1.3M186.0 241.0h5.0M186.0 247.0h5.0M186.0 251.0h5.0M196.4 252.6h1.1M186.0 261.0h5.0M186.4 263.4h1.2M186.0 271.0h7.5M186.0 273.0h8.8M186.0 285.0h6.2M189.9 288.5h1.8M186.0 295.0h5.0M186.0 307.0h5.0M186.0 309.0h5.0M186.0 323.0h5.0M195.9 334.7h1.1M186.0 339.0h6.2M187.2 341.0h5.0M192.0 343.1h1.8M192.3 348.9h1.3M186.0 363.0h5.0M186.0 367.0h5.0M195.7 374.7h1.2M186.0 381.0h5.0M191.1 383.4h2.6M189.5 387.4h1.3M185.7 388.9h3.0M186.0 391.0h5.0M186.0 393.0h5.0M196.2 395.1h1.3M185.9 397.2h1.0M188.6 396.9h2.0M186.0 399.0h5.0M188.9 414.9h3.5M191.3 425.0h1.1M187.2 427.0h5.0M186.9 431.0h3.9M186.0 433.0h5.0M186.0 441.0h7.5M187.2 443.0h5.0M186.2 445.5h1.0M185.9 457.3h2.5M193.4 457.0h1.3M186.0 461.0h5.0M187.2 468.9h1.3M186.2 474.9h1.1M185.9 478.8h2.1M187.0 483.1h1.1M191.3 485.3h1.1M188.3 486.7h1.1M190.6 487.2h2.0M193.3 491.3h1.3M187.2 501.2h0.9M186.0 507.0h5.0M186.0 519.0h5.0M185.6 520.5h1.8M186.0 539.0h5.0" stroke="#ece44c" stroke-width="2" stroke-opacity="0.8" fill="none"/>
<path d="M191.3 126.7h1.4M190.9 141.4h2.0M201.1 159.1h1.2M198.8 166.9h1.0M188.3 181.5h2.3M197.2 189.4h1.1M194.9 194.8h4.0M194.9 203.2h2.6M198.8 203.4h1.3M188.4 210.7h3.0M195.7 211.4h1.0M197.1 215.3h3.3M192.0 217.4h0.9M196.3 218.8h1.0M186.1 221.2h3.3M196.1 229.1h1.3M197.1 235.3h1.2M190.8 238.6h1.3M197.2 239.1h1.4M187.2 243.1h1.0M199.5 243.2h1.1M190.0 248.9h2.0M186.4 255.4h3.6M186.1 269.1h3.3M188.6 276.9h1.3M192.5 300.6h0.9M186.9 305.1h2.7M190.0 319.5h3.8M188.3 327.3h0.9M186.4 336.7h1.1M186.9 358.9h3.6M195.7 361.1h1.3M185.8 368.6h2.3M194.9 370.7h1.2M185.9 373.3h3.8M192.0 380.7h0.9M188.2 402.6h1.2M190.6 404.9h0.9M186.3 406.9h1.0M192.4 409.2h1.1M191.2 457.2h1.3M190.9 459.2h1.1M186.1 473.2h1.3M186.4 522.9h4.0" stroke="#ece44c" stroke-width="2.6" stroke-opacity="0.3" fill="none"/>
<path d="M185.9 128.7h1.3M194.7 147.4h2.7M198.7 160.9h2.1M196.1 165.1h2.7M191.0 166.8h1.1M194.6 170.9h1.4M192.6 187.3h1.1M195.6 197.4h1.1M188.2 215.3h2.2M196.1 217.3h0.9M186.0 229.5h3.2M187.3 231.2h2.7M199.7 230.7h1.3M195.0 235.3h1.2M194.4 238.9h1.3M196.2 240.7h1.0M185.6 245.1h1.0M195.8 244.6h1.1M188.7 265.1h1.0M195.8 275.4h1.3M187.4 290.9h0.9M193.2 293.0h1.1M196.9 294.5h1.0M188.2 302.6h1.0M189.8 321.1h1.3M185.7 327.3h1.1M186.0 334.7h4.0M186.2 345.2h3.9M197.6 345.4h1.3M187.0 347.3h3.8M190.6 352.5h2.9M187.5 354.7h0.9M196.1 356.8h1.3M186.9 365.0h1.1M191.3 372.7h1.3M194.9 377.1h1.3M188.2 412.9h2.3M186.2 418.6h1.1M193.2 424.8h1.4M192.3 434.7h2.4M189.7 478.9h1.1M186.1 491.3h1.1M191.0 515.3h1.1M192.0 523.1h1.9M186.3 534.8h2.6M192.1 535.1h1.1" stroke="#ece44c" stroke-width="2" stroke-opacity="0.3" fill="none"/>
<path d="M188.9 128.9h2.0M186.3 141.4h1.2M192.2 149.5h2.1M197.6 148.6h0.9M186.1 162.6h3.5M194.5 168.7h2.3M197.5 173.0h1.8M186.2 175.3h1.3M185.8 177.2h3.5M186.0 179.2h3.3M188.9 193.1h2.2M185.9 217.4h3.9M191.1 255.2h1.8M185.6 275.2h1.3M188.3 275.4h1.3M195.6 276.9h1.3M195.8 278.6h1.9M193.1 284.7h1.0M189.8 291.4h1.2M188.3 297.3h1.0M187.0 328.7h1.0M196.3 333.3h1.3M190.7 334.7h1.9M185.7 343.5h1.2M187.2 348.5h3.4M185.8 352.9h1.1M186.1 361.0h1.0M193.9 360.7h1.4M187.0 371.4h0.9M191.1 401.2h1.3M188.2 409.1h1.2M190.9 417.4h1.3M193.2 416.7h0.9M187.5 437.2h4.0M192.1 447.0h1.2M186.0 465.3h1.3M191.4 473.2h1.3M190.9 497.2h0.9M188.8 503.3h1.9M187.0 513.1h1.2M186.2 514.5h2.5M186.2 528.8h2.7M185.8 532.6h2.6M187.3 536.7h2.2" stroke="#ece44c" stroke-width="2" stroke-opacity="0.5" fill="none"/>
<path d="M198.6 135.1h1.3M194.8 136.9h1.1M194.4 138.8h3.2M192.0 150.6h1.0M193.1 154.8h2.4M190.9 162.8h2.2M192.4 178.5h1.3M185.9 181.4h1.2M185.9 186.9h2.3M186.2 191.2h1.3M188.2 191.4h1.8M195.9 200.6h1.2M186.3 202.8h3.8M191.0 229.4h1.4M193.5 229.2h1.2M185.7 233.3h4.0M188.1 257.1h1.2M195.0 256.8h1.1M190.1 267.3h1.1M186.2 289.2h1.1M186.0 302.5h1.3M187.2 313.3h1.8M186.2 315.1h1.9M195.7 315.3h1.1M191.2 324.8h0.9M192.6 351.4h2.1M195.0 405.0h2.0M188.8 407.0h0.9M194.9 406.9h1.0M189.4 423.2h1.3M191.1 439.0h1.4M185.8 451.0h1.2M186.1 476.5h1.2M188.1 477.5h1.3M190.1 482.5h3.5M190.1 511.1h0.9" stroke="#ece44c" stroke-width="2.6" stroke-opacity="0.5" fill="none"/>
<path d="M185.8 136.9h1.1M198.7 147.4h1.3M198.8 150.9h1.1M198.4 155.0h1.3M199.9 177.2h2.2M192.4 180.8h2.4M195.0 183.2h2.7M192.0 189.3h0.9M194.9 198.5h1.2M185.8 201.2h1.3M185.7 212.9h3.2M198.6 216.8h1.3M198.6 220.6h1.3M192.4 224.7h1.0M189.8 226.7h2.4M196.2 250.8h1.0M191.2 257.1h1.3M185.6 280.9h1.0M192.2 297.1h2.3M192.3 307.2h1.2M191.1 316.5h1.4M195.1 321.1h0.9M186.1 325.3h4.1M189.8 357.1h0.9M190.1 361.2h1.3M196.4 369.4h1.4M196.0 372.7h0.9M191.9 376.6h1.1M186.1 385.0h2.3M194.8 391.0h2.0M188.9 395.5h2.2M192.1 396.9h1.2M186.3 410.7h3.6M186.0 416.7h3.4M190.0 421.3h1.1M188.8 425.2h1.3M188.7 435.1h1.3M193.3 443.0h1.3M187.3 454.8h2.2M186.2 462.6h1.1M187.0 495.3h1.2M188.8 496.9h1.2M190.8 521.3h1.4" stroke="#ece44c" stroke-width="1.4" stroke-opacity="0.8" fill="none"/></g>
<path d="M150 122.0h29M150 131.7h29M150 141.4h29M150 151.1h29M150 160.8h29M150 170.5h29M150 180.2h29M150 189.9h29M150 199.6h29M150 209.3h29M150 219.0h29M150 228.7h29M150 238.4h29M150 248.1h29M150 257.8h29M150 267.5h29M150 277.2h29M150 286.9h29M150 296.6h29M150 306.3h29M150 316.0h29M150 325.7h29M150 335.4h29M150 345.1h29M150 354.8h29M150 364.5h29M150 374.2h29M150 383.9h29M150 393.6h29M150 403.3h29M150 413.0h29M150 422.7h29M150 432.4h29M150 442.1h29M150 451.8h29M150 461.5h29M150 471.2h29M150 480.9h29M150 490.6h29M150 500.3h29M150 510.0h29M150 519.7h29M150 529.4h29M150 539.1h29" stroke="#ffc400" stroke-width="3.5" stroke-opacity="0.09" fill="none"/>
<path d="M150 126.8h46M150 136.5h46M150 146.2h46M150 155.9h46M150 165.6h46M150 175.3h46M150 185.0h46M150 194.7h46M150 204.4h46M150 214.1h46M150 223.8h46M150 233.5h46M150 243.2h46M150 252.9h46M150 262.6h46M150 272.3h46M150 282.0h46M150 291.7h46M150 301.4h46M150 311.1h46M150 320.8h46M150 330.5h46M150 340.2h46M150 349.9h46M150 359.6h46M150 369.3h46M150 379.0h46M150 388.7h46M150 398.4h46M150 408.1h46M150 417.8h46M150 427.5h46M150 437.2h46M150 446.9h46M150 456.6h46M150 466.3h46M150 476.0h46M150 485.7h46M150 495.4h46M150 505.1h46M150 514.8h46M150 524.5h46M150 534.2h46" stroke="#d8f45a" stroke-width="3" stroke-opacity="0.17" fill="none"/>
<rect x="196" y="328.5" width="80" height="1.4" fill="#ffd000" opacity="0.25"/>
<path d="M321.7 121.2h1.0M330.5 130.5h1.1M330.5 135.4h1.3M323.6 137.4h1.2M328.4 136.6h1.3M324.8 149.1h1.2M348.4 169.3h1.3M336.7 172.9h1.2M323.3 193.3h1.0M332.3 192.9h1.1M337.9 196.8h1.1M335.7 200.8h2.3M329.3 203.5h2.0M344.8 202.5h1.0M330.8 212.8h1.2M334.9 215.4h1.2M324.2 220.8h1.3M323.6 227.2h3.8M330.6 248.8h1.0M325.8 252.7h0.9M331.0 264.9h1.1M324.3 283.4h2.5M344.4 285.3h0.9M325.5 295.5h1.1M325.7 296.6h1.0M324.3 307.4h2.2M336.8 306.7h1.3M339.8 308.7h1.2M331.0 313.1h1.3M324.1 317.0h3.4M326.0 341.2h1.0M330.8 375.0h1.3M333.0 375.3h1.3M328.0 381.4h1.2M331.1 391.3h1.3M336.1 390.8h1.1M330.4 412.6h2.5M335.5 415.0h1.2M344.1 416.8h1.1M335.6 430.8h0.9M329.9 433.4h2.1M326.6 441.4h2.4M326.7 444.6h1.2M330.7 458.8h2.0M327.1 473.1h2.5M348.0 486.9h1.2M331.1 489.0h2.0M327.1 504.9h1.3M336.9 532.9h1.8" stroke="#cdf54a" stroke-width="1.4" stroke-opacity="0.5" fill="none"/>
<path d="M330.6 120.5h1.1M324.2 125.2h0.9M325.4 137.0h1.0M327.2 151.2h1.3M322.2 156.8h1.1M324.9 157.0h0.9M341.9 165.3h1.2M331.0 179.1h2.7M330.7 181.2h1.0M339.8 188.9h1.4M344.8 194.9h1.1M324.9 197.5h1.0M324.2 210.9h2.1M325.4 215.0h1.4M329.3 225.5h1.1M336.8 229.4h1.3M332.3 238.7h1.1M324.7 244.9h2.3M328.1 244.7h1.1M325.9 273.4h1.0M330.5 277.5h1.2M337.0 300.7h1.3M340.4 318.8h1.3M324.7 327.4h2.2M326.0 346.7h1.3M329.5 347.5h1.1M327.1 348.7h2.2M325.5 367.5h1.3M325.4 374.8h2.3M333.6 387.2h1.3M334.5 389.2h1.0M330.7 399.0h3.7M330.7 401.1h1.0M325.9 407.0h2.5M325.4 411.5h1.1M334.5 410.8h1.2M326.0 414.7h3.6M337.3 425.3h2.1M330.9 426.8h0.9M337.0 433.1h1.3M336.1 434.5h0.9M343.3 439.0h0.9M346.0 455.4h1.0M329.2 460.7h0.9M327.3 465.0h1.1M336.7 471.0h2.4M343.4 470.7h0.9M331.1 490.9h1.3M336.6 492.6h1.4M330.5 499.0h1.8M334.7 501.3h1.0M327.0 503.4h1.3M327.1 512.6h1.1M332.1 524.8h1.1" stroke="#cdf54a" stroke-width="1.4" stroke-opacity="0.75" fill="none"/>
<path d="M325.9 122.7h2.5M321.8 143.1h1.0M324.5 142.7h1.8M330.9 153.3h1.9M322.1 154.9h1.3M332.3 165.2h1.1M336.8 165.2h1.1M332.3 185.2h0.9M325.4 194.6h1.3M324.1 205.0h1.8M342.3 207.0h1.3M323.5 215.3h1.2M344.5 215.5h1.3M332.2 231.2h1.1M323.5 235.3h2.6M329.5 235.0h2.2M324.7 239.5h3.8M331.0 259.3h0.9M329.8 260.9h2.6M324.9 262.7h1.3M332.0 263.1h1.1M337.1 263.4h0.9M324.1 271.1h1.2M324.2 287.4h2.2M330.7 289.2h2.5M332.2 295.3h1.3M331.1 298.9h1.0M325.7 300.6h1.1M324.7 308.5h1.1M329.7 309.3h1.4M324.8 314.5h1.9M337.0 314.8h1.1M329.8 317.0h2.5M349.6 320.9h1.4M325.6 339.3h1.2M328.3 338.8h1.3M334.1 346.7h1.2M343.3 350.9h2.5M325.6 355.3h2.0M335.5 359.0h1.0M326.1 364.6h1.1M335.8 365.0h1.3M325.9 377.3h1.3M336.9 382.9h1.2M329.5 385.2h2.5M336.9 389.4h1.2M338.0 391.3h1.2M332.1 393.1h1.4M325.5 396.8h1.1M335.5 404.5h1.1M331.8 414.6h1.2M330.4 429.2h3.4M330.5 431.3h1.0M327.2 436.5h1.1M331.0 463.4h2.7M328.3 481.3h1.2M327.4 484.8h1.2M327.0 511.1h1.0M337.3 518.6h1.1" stroke="#cdf54a" stroke-width="2.6" stroke-opacity="0.3" fill="none"/>
<path d="M340.4 124.9h0.9M343.1 126.5h1.0M322.0 145.0h1.1M330.5 154.7h0.9M322.2 163.0h1.0M329.4 168.8h2.6M337.4 168.6h2.1M330.4 172.6h1.3M342.9 180.9h1.0M324.1 191.1h1.2M337.3 198.7h0.9M336.8 205.5h1.3M334.8 211.0h1.2M343.0 221.5h1.0M323.4 224.9h2.4M345.4 232.8h1.3M324.2 260.7h1.3M330.6 281.0h1.0M324.4 288.8h1.0M324.3 290.6h1.0M324.5 322.8h0.9M324.8 331.5h2.2M332.3 339.0h1.2M334.6 339.2h1.1M325.5 351.0h2.2M328.3 359.0h1.0M325.8 361.0h0.9M329.6 360.7h1.2M325.4 385.2h1.1M325.4 387.0h1.3M343.5 398.8h1.0M329.4 407.4h3.5M325.4 418.9h2.1M325.4 423.4h1.0M326.8 427.0h0.9M327.3 433.1h1.2M327.3 477.5h1.0M339.7 502.8h1.2M332.0 519.3h2.7M331.0 527.3h1.0" stroke="#cdf54a" stroke-width="1.4" stroke-opacity="0.3" fill="none"/>
<path d="M324.2 127.3h2.4M321.6 149.4h1.1M325.4 171.1h1.1M323.1 176.8h2.1M330.8 187.2h0.9M332.1 190.8h1.2M330.7 194.6h1.0M333.4 197.1h1.3M324.1 212.8h2.7M336.6 213.0h1.2M330.7 215.3h1.0M345.9 216.6h1.1M323.4 223.0h0.9M330.7 223.4h1.3M324.1 233.4h1.1M344.5 237.4h1.3M345.9 240.5h1.3M331.1 245.1h0.9M332.1 246.6h1.3M324.4 249.1h1.3M338.1 257.4h1.1M336.1 261.3h1.8M324.3 264.7h2.4M328.5 265.2h0.9M328.4 271.0h1.0M325.6 275.0h1.1M331.0 279.2h1.1M347.0 285.0h1.2M333.5 292.9h1.0M344.6 306.6h1.2M325.5 310.5h1.1M337.2 312.6h1.0M333.0 319.2h1.3M327.3 321.1h2.0M346.7 325.2h1.1M324.1 329.4h1.3M344.6 333.1h1.2M344.8 337.3h0.9M325.6 342.8h2.6M327.2 344.6h1.3M329.6 345.3h1.3M348.3 345.3h1.1M329.4 369.1h1.3M325.6 388.6h1.3M326.1 399.4h2.4M328.4 403.4h1.1M347.2 435.3h1.1M330.6 436.5h1.1M328.6 439.3h1.0M333.6 444.7h1.3M331.1 448.8h1.2M329.3 474.5h1.8M346.1 474.6h1.0M327.3 487.1h1.3M328.1 492.6h1.3M339.4 497.0h1.0M342.3 497.1h1.2M345.5 496.8h1.4M337.0 499.4h1.2M345.5 499.5h1.2M342.3 510.6h0.9M330.5 523.1h2.1M329.7 536.8h2.7M338.5 537.3h0.9" stroke="#cdf54a" stroke-width="2.6" stroke-opacity="0.75" fill="none"/>
<path d="M332.1 126.5h1.4M334.4 130.7h1.0M331.1 132.9h0.9M327.0 141.1h1.2M343.0 144.9h1.1M337.1 151.0h1.2M322.3 152.6h1.3M338.0 171.4h0.9M337.2 203.0h1.1M328.2 207.2h0.9M349.5 217.4h1.2M329.1 226.9h1.3M336.7 259.2h1.2M333.5 265.2h1.0M336.7 264.5h1.2M325.5 267.4h1.2M329.3 282.9h1.2M331.0 292.6h1.3M334.7 296.9h1.0M334.8 314.6h0.9M343.4 316.6h1.1M332.0 322.8h1.1M330.7 332.8h1.3M333.2 333.4h1.0M336.1 354.8h1.3M345.7 361.2h1.0M330.6 372.8h1.2M343.4 373.3h1.2M326.1 379.3h2.5M328.2 388.6h3.8M326.0 391.1h2.5M338.5 410.6h1.2M337.1 418.5h0.9M325.5 420.9h1.2M349.8 427.4h1.1M327.1 430.6h1.4M329.7 434.7h1.0M343.3 445.5h2.1M331.7 447.4h1.0M328.0 455.3h1.3M330.8 482.7h1.2M331.1 504.9h1.8M327.0 506.5h1.3M330.5 511.5h1.2M338.6 510.9h1.1M330.5 513.2h2.7M342.4 519.3h2.5M329.4 531.5h0.9" stroke="#cdf54a" stroke-width="2" stroke-opacity="0.5" fill="none"/>
<path d="M324.2 129.3h2.4M332.1 150.5h1.2M326.8 159.0h1.2M326.8 172.8h1.3M323.2 181.0h3.3M324.4 185.0h3.6M324.2 188.9h0.9M324.3 207.1h1.8M330.4 210.7h2.4M324.1 229.1h2.4M334.2 240.6h1.2M324.8 243.2h1.4M326.0 247.2h0.9M325.4 293.0h1.3M337.2 293.4h1.0M331.1 302.5h1.2M325.9 304.5h0.9M324.2 313.1h0.9M324.2 324.5h2.4M324.3 337.0h1.1M331.1 342.5h1.3M341.7 366.9h1.1M325.5 373.1h1.9M345.8 381.0h1.0M325.4 392.9h2.6M330.7 397.5h1.2M338.3 398.7h1.0M328.4 409.3h1.3M329.5 410.8h1.0M329.3 416.7h1.0M329.2 421.3h1.0M332.9 441.1h0.9M337.0 440.5h1.2M343.5 451.2h1.1M326.7 456.9h1.2M337.3 457.4h1.2M338.4 464.6h1.4M333.3 470.8h1.2M330.4 478.5h2.6M330.5 487.3h2.2M327.0 499.1h0.9M339.7 501.4h2.6M334.8 502.9h1.2M336.8 513.5h0.9M340.6 521.1h1.0M349.2 536.8h1.2" stroke="#cdf54a" stroke-width="2.6" stroke-opacity="0.5" fill="none"/>
<path d="M324.5 131.0h0.9M326.1 132.7h1.1M325.4 134.7h3.8M337.0 135.4h1.1M330.5 145.1h1.2M342.0 147.1h1.4M336.0 158.8h1.2M330.4 162.9h1.3M323.3 165.4h4.0M328.5 166.8h1.3M324.5 168.6h2.0M324.4 183.4h1.0M344.5 185.3h1.2M328.2 186.6h1.0M328.2 196.7h1.3M324.3 200.8h1.2M341.7 205.3h1.0M325.8 208.7h2.0M325.7 216.6h1.2M338.0 233.1h1.2M324.3 256.6h1.1M327.4 261.0h1.2M342.9 261.2h1.0M349.9 271.2h1.3M326.9 276.8h1.3M324.1 299.0h1.1M331.7 307.2h1.2M344.9 310.6h1.1M332.9 312.9h1.1M330.7 315.4h1.0M324.8 333.3h1.2M336.6 336.9h1.0M337.9 340.6h1.3M328.0 356.7h1.3M327.4 370.8h1.3M336.9 376.8h1.2M331.9 383.4h1.4M334.4 385.2h3.5M344.1 384.8h1.3M328.5 386.8h1.1M325.5 394.5h0.9M336.0 402.9h1.3M343.6 422.8h1.3M330.6 425.0h1.1M336.8 427.2h1.4M338.3 439.0h1.3M334.8 448.9h1.3M334.8 451.0h2.1M341.1 459.0h1.2M330.4 467.2h0.9M333.3 468.9h1.2M337.4 480.7h0.9M335.4 489.2h2.3M331.1 494.7h1.0M328.1 497.1h2.6M331.9 501.0h1.3M331.0 503.4h1.1M345.4 505.3h1.4M337.4 507.4h1.2M344.5 508.6h0.9M342.9 530.8h1.2M330.6 538.7h1.1" stroke="#cdf54a" stroke-width="2" stroke-opacity="0.3" fill="none"/>
<path d="M336.8 143.4h1.0M324.2 151.4h1.2M328.1 157.5h1.1M324.5 162.8h1.2M331.9 175.4h1.1M328.4 195.1h1.2M330.9 199.5h1.0M338.3 207.1h1.0M339.2 211.1h0.9M332.2 220.9h0.9M325.8 223.1h1.3M336.9 235.4h1.2M328.0 236.5h1.3M323.2 251.0h5.0M327.2 258.7h2.7M324.7 279.4h1.9M324.1 284.9h2.2M339.2 300.9h1.1M334.3 309.1h1.0M324.1 318.7h1.0M328.6 318.6h1.3M324.3 320.6h1.1M334.3 320.8h1.3M339.6 327.5h1.3M329.5 329.0h1.1M334.3 345.1h1.2M331.9 348.9h1.1M326.0 352.8h1.8M325.5 357.0h1.3M332.3 361.3h0.9M325.7 362.7h1.0M326.1 369.0h0.9M346.1 377.1h0.9M336.1 380.8h1.0M330.7 395.0h2.4M332.3 417.3h0.9M339.2 427.3h1.3M330.8 443.0h5.0M326.9 450.9h1.2M327.3 460.9h1.0M339.4 460.6h0.9M327.3 471.0h0.9M332.2 480.9h1.2M343.0 487.1h1.0M330.4 492.7h2.3M333.5 494.9h1.1M330.7 508.8h1.3M336.0 520.5h1.3M328.2 533.0h5.0" stroke="#cdf54a" stroke-width="2" stroke-opacity="0.75" fill="none"/>
<path d="M343.3 120.6h1.7M373.9 133.5h3.0M350.0 226.6h2.2M398.7 226.8h2.4M355.4 287.3h1.9M405.1 480.6h2.7M411.6 481.1h2.8M361.8 494.6h3.1M374.9 500.4h1.9" stroke="#d8f458" stroke-width="2.5" stroke-opacity="0.2" fill="none"/>
<path d="M337.0 126.6h2.6M337.0 140.2h3.0M355.5 147.2h2.6M336.8 167.2h2.8M337.4 173.9h1.7M336.5 187.1h3.2M337.0 213.4h1.6M386.2 237.1h3.1M349.4 295.7h2.2M356.1 313.5h1.8M362.4 327.9h2.2M374.8 333.4h1.7M374.2 415.5h2.0M343.0 460.9h2.4M349.8 468.1h2.4M361.5 467.9h2.5M398.3 468.1h3.0M349.8 508.1h2.5M392.6 533.0h3.0" stroke="#d8f458" stroke-width="2.5" stroke-opacity="0.4" fill="none"/>
<path d="M330.9 133.1h2.3M330.7 219.8h1.6M331.3 364.9h1.9M342.6 364.9h3.2M337.1 394.3h2.3M337.3 415.0h2.0M330.5 427.7h3.2M331.3 460.4h1.8M330.7 473.7h2.1M330.7 500.5h2.3M330.7 511.6h2.4M348.9 511.4h2.5M362.1 512.1h1.9M330.9 520.5h2.4M330.9 533.4h1.9M337.3 532.8h2.3" stroke="#d8f458" stroke-width="2" stroke-opacity="0.8" fill="none"/>
<path d="M355.7 133.1h2.0M342.5 140.4h2.8M355.8 153.1h2.9M330.8 193.5h2.4M374.7 207.4h2.1M379.7 214.0h2.9M350.1 220.4h1.9M392.6 237.4h3.0M349.3 260.8h2.5M355.5 267.1h2.5M349.7 301.1h2.1M362.2 307.2h2.2M337.4 320.8h1.9M399.1 374.5h2.0M355.9 388.1h2.8M361.9 388.0h1.8M355.1 421.1h2.9M349.5 493.8h3.1M343.1 527.6h2.1M368.6 532.6h1.9" stroke="#d8f458" stroke-width="1.5" stroke-opacity="0.4" fill="none"/>
<path d="M331.5 140.3h1.7M330.9 166.9h2.7M343.4 174.0h2.7M330.2 206.5h3.0M331.0 227.4h2.5M361.8 237.7h1.7M331.1 273.9h1.9M337.0 280.7h2.4M342.5 287.8h3.1M337.3 353.9h1.8M331.4 374.5h1.6M343.6 374.5h2.5M343.2 380.7h2.5M361.7 400.3h2.6M368.4 400.3h1.6M337.1 407.6h2.0M348.9 407.3h2.6M342.9 415.8h2.4M349.9 415.8h2.3M380.1 415.4h3.1M343.1 467.4h2.0M361.6 485.6h2.8M373.9 485.8h2.4M343.5 501.0h2.1M368.0 511.6h2.2" stroke="#d8f458" stroke-width="1.5" stroke-opacity="0.6" fill="none"/>
<path d="M330.9 147.3h2.8M336.7 180.2h2.9M343.8 180.1h1.6M398.6 237.9h2.7M337.8 274.4h1.6M330.4 307.0h2.6M330.8 320.7h2.9M330.3 340.4h2.7M337.2 387.4h2.7M342.9 388.0h3.1M356.1 401.0h1.8M355.8 416.0h2.6M343.0 421.0h2.2M361.4 447.7h3.2M337.5 454.0h2.2M337.4 461.4h2.3M330.4 480.6h3.1M343.4 480.8h2.1M336.9 494.0h3.1M337.0 500.6h1.8M342.7 507.4h2.5M336.9 521.4h2.0M343.3 521.4h1.8" stroke="#d8f458" stroke-width="2.5" stroke-opacity="0.6" fill="none"/>
<path d="M368.0 153.9h2.6M361.5 280.5h2.6M368.8 365.0h1.8M374.4 364.6h2.0M386.2 468.1h2.6M392.3 501.3h3.2" stroke="#d8f458" stroke-width="2" stroke-opacity="0.2" fill="none"/>
<path d="M330.9 173.4h2.7M367.7 237.0h2.5M337.5 254.3h2.1M331.0 260.9h2.2M330.6 327.7h3.2M356.0 327.9h2.3M330.6 334.2h1.9M330.3 360.1h3.2M343.0 360.6h2.9M336.7 365.1h2.9M331.0 381.2h3.1M337.5 380.5h2.4M367.9 393.8h3.1M342.9 427.4h2.6M349.7 460.3h2.0M337.1 467.1h3.1M343.4 474.6h2.1M337.3 480.4h2.4M368.5 485.7h1.6M337.1 508.0h2.2M350.1 521.6h1.7M368.3 520.6h2.6" stroke="#d8f458" stroke-width="2" stroke-opacity="0.6" fill="none"/>
<path d="M355.5 173.1h2.4M349.5 186.8h2.5M368.2 213.7h2.0M393.0 260.3h2.9M393.5 280.3h1.8M343.7 333.5h2.1M361.8 381.0h2.8M399.1 393.8h2.8M387.3 440.3h2.0M392.9 448.0h2.0M379.7 454.7h3.0" stroke="#d8f458" stroke-width="1.5" stroke-opacity="0.2" fill="none"/>
<path d="M355.3 180.1h2.4M361.8 179.7h2.8M337.4 227.0h1.8M342.6 247.2h3.1M343.6 274.3h2.2M344.0 313.4h1.7M342.5 320.6h2.9M349.2 347.9h2.6M355.3 373.6h2.2M380.4 401.1h2.8M386.5 400.3h2.4M349.6 440.9h1.9M379.8 480.5h3.2M392.4 485.4h2.8M355.7 500.4h2.3M368.2 507.3h1.8M380.1 521.6h2.9M379.9 532.8h2.7M387.1 532.8h2.1" stroke="#d8f458" stroke-width="2" stroke-opacity="0.4" fill="none"/>
<path d="M331.3 237.7h2.2M336.5 238.1h2.5M343.1 237.2h3.1M380.9 237.8h1.9M330.3 247.4h2.5M330.8 267.1h3.2M331.2 296.2h1.9M331.2 300.3h2.1M331.2 346.9h2.1M330.6 353.6h3.2M330.5 387.3h2.9M330.5 394.4h3.2M336.7 400.6h2.6M350.2 401.0h1.7M330.5 434.7h2.3M330.6 447.7h1.8M349.5 448.6h1.6M331.6 454.5h1.7M330.6 467.4h2.5M330.6 485.6h2.6M337.3 485.4h2.6M349.0 486.2h3.1M355.5 485.4h2.7M343.2 511.7h2.8M355.8 512.0h1.9M336.9 527.2h2.6M343.3 532.8h3.0M355.7 532.9h2.8" stroke="#d8f458" stroke-width="1.5" stroke-opacity="0.8" fill="none"/>
<path d="M349.2 237.6h2.7M355.1 236.9h3.1M374.5 237.9h1.6M330.4 254.0h2.3M330.7 287.5h2.9M330.2 400.9h2.9M342.9 400.1h3.0M330.6 407.9h2.7M330.6 415.7h2.4M330.4 421.4h2.9M336.9 448.5h1.7M343.2 447.7h1.8M355.2 448.3h2.9M337.3 474.5h1.6M343.1 486.0h3.1M330.5 494.8h2.3M331.2 507.7h1.6M337.4 511.5h1.9M330.3 527.4h2.6M348.7 533.5h3.0" stroke="#d8f458" stroke-width="2.5" stroke-opacity="0.8" fill="none"/>
<linearGradient id="fu" gradientUnits="userSpaceOnUse" x1="494" y1="0" x2="514" y2="0"><stop offset="0" stop-color="#ffd000"/><stop offset="1" stop-color="#fdd724"/></linearGradient>
<g transform="translate(-0.943,0) skewX(0.45)"><rect x="494" y="120" width="20.2" height="420" fill="url(#fu)"/>
<path d="M484.7 120.7h1.0M493.3 120.7h1.2M500.9 121.3h1.3M508.4 131.3h3.8M493.4 145.5h1.0M497.1 144.9h3.6M497.1 149.0h1.0M494.8 152.6h1.2M504.2 154.9h3.8M513.0 155.0h1.2M512.4 161.3h2.7M500.6 167.4h1.3M500.5 169.5h1.3M498.6 171.2h0.9M513.1 170.6h1.0M507.9 177.1h3.9M503.0 184.7h1.2M496.9 186.6h1.0M510.6 190.8h2.6M510.9 192.7h1.0M511.7 200.8h0.9M498.0 206.8h1.0M509.1 207.4h2.3M498.4 209.3h1.4M503.2 208.6h2.7M500.6 212.6h1.1M498.2 220.8h2.6M501.0 223.4h0.9M507.0 228.9h0.9M513.4 253.1h0.9M497.3 256.7h1.9M510.5 265.4h2.4M503.4 268.6h1.0M498.3 270.9h0.9M496.8 273.5h2.4M501.9 273.5h1.2M502.9 278.7h2.9M505.8 293.1h1.2M494.3 297.3h1.2M504.8 297.3h0.9M503.2 300.8h1.0M509.7 302.6h3.0M497.0 304.8h1.1M504.1 308.6h1.1M499.6 311.4h2.0M489.7 315.1h1.2M501.0 319.5h3.7M503.2 323.1h0.9M509.4 326.5h1.9M505.7 330.9h1.1M501.0 332.6h1.2M498.2 336.9h2.2M504.6 337.0h2.1M490.7 339.4h1.0M495.6 340.8h2.7M492.3 351.2h1.4M503.1 353.2h1.0M509.8 357.2h1.2M513.2 359.0h1.0M507.1 362.7h1.1M491.1 365.0h1.2M497.1 364.6h2.6M510.6 366.6h2.7M509.5 379.0h2.3M504.6 386.6h0.9M508.0 387.2h1.0M496.8 393.0h1.4M493.6 398.8h1.2M510.8 399.4h1.4M502.1 400.6h0.9M512.4 400.9h2.3M502.1 403.3h1.0M509.8 405.1h1.0M498.4 410.9h2.2M509.8 411.1h0.9M508.1 415.0h3.7M491.6 423.2h1.3M500.6 434.9h1.1M511.1 437.5h2.8M503.6 442.9h2.2M503.4 444.5h2.6M486.0 453.4h1.0M504.8 453.0h0.9M506.7 457.4h1.0M491.9 468.7h1.3M513.1 477.3h1.3M490.8 479.0h1.1M498.4 480.5h2.9M494.5 488.7h2.0M502.2 488.8h1.2M504.7 489.3h1.2M489.2 492.5h0.9M513.3 493.4h0.9M503.1 494.7h2.5M497.9 497.5h0.9M492.9 499.2h1.3M496.8 503.0h1.3M509.4 502.8h2.5M510.9 505.4h3.8M491.8 509.3h2.1M482.3 510.8h1.2M491.7 511.3h3.1M487.0 513.5h1.1M490.4 517.2h0.9M512.2 519.4h1.3M490.4 522.9h1.0M509.2 525.0h2.0M498.3 535.5h1.2" stroke="#fbe144" stroke-width="1.4" stroke-opacity="0.3" fill="none"/>
<path d="M504.7 120.8h1.1M500.5 125.2h1.9M490.8 127.0h1.3M498.5 133.4h1.3M491.1 135.1h1.1M494.4 149.2h1.2M507.9 149.1h3.6M499.4 150.8h1.2M509.5 154.8h1.9M486.0 158.5h1.3M496.0 159.3h0.9M504.8 160.5h1.2M508.6 161.5h1.0M488.3 165.4h0.9M508.3 165.1h1.2M491.7 167.4h1.3M512.2 167.2h1.1M501.6 171.2h4.1M486.0 175.2h1.0M502.1 174.5h1.2M510.4 175.4h3.8M513.0 178.6h0.9M493.0 191.4h1.9M508.4 201.1h1.3M494.4 204.9h1.4M500.6 207.2h1.9M494.4 210.9h1.3M491.0 215.0h1.1M498.3 214.8h1.1M500.9 214.7h1.2M499.9 225.2h1.3M513.3 228.8h1.1M509.3 231.1h4.1M491.7 233.0h2.5M507.1 241.2h2.5M488.1 243.2h1.0M491.7 244.8h1.0M504.4 246.8h2.2M498.6 249.5h1.8M509.4 249.0h2.0M496.8 253.1h1.4M492.9 254.8h1.4M503.1 257.4h0.9M511.6 257.3h1.9M498.6 265.3h1.1M502.9 267.4h2.9M485.5 269.2h1.0M485.6 270.9h1.1M485.5 275.2h1.3M492.1 277.5h1.2M499.5 285.4h1.1M502.9 286.9h1.1M492.9 306.7h1.3M508.5 311.0h4.1M495.9 317.4h2.1M511.7 318.7h1.2M503.5 321.0h1.3M498.6 322.5h1.3M513.1 335.0h1.4M502.2 337.5h1.0M500.5 339.1h1.1M497.2 343.0h0.9M484.1 347.1h1.0M512.1 349.4h1.2M506.0 353.4h1.2M503.3 360.5h1.2M505.7 372.6h4.0M502.4 375.3h4.0M502.1 377.1h1.1M497.4 389.3h0.9M499.5 389.4h1.3M487.4 396.9h1.1M504.3 396.9h1.1M509.4 396.6h2.1M483.3 398.6h1.1M498.3 402.5h1.3M513.0 402.7h0.9M485.5 420.5h1.1M513.1 420.7h1.3M487.2 435.2h1.3M496.7 436.6h1.9M498.2 450.7h1.1M497.1 463.1h1.0M498.1 464.8h1.3M511.9 467.4h2.5M491.7 475.3h1.2M494.4 483.2h1.3M513.2 484.8h1.1M499.5 488.5h1.0M504.2 492.8h1.1M492.2 495.0h1.0M497.2 494.6h1.0M503.1 510.6h1.3M485.7 517.4h0.9M493.3 516.6h1.2M503.0 517.2h2.5M504.2 523.2h2.4M503.1 530.8h3.4" stroke="#fbe144" stroke-width="2.6" stroke-opacity="0.5" fill="none"/>
<path d="M509.6 120.5h1.1M488.0 125.2h1.0M509.6 125.0h2.0M486.7 130.8h1.2M504.5 130.7h1.0M489.5 133.2h2.0M493.0 138.8h1.0M497.2 138.9h0.9M498.6 140.8h1.2M509.4 142.8h2.4M503.3 149.1h1.4M499.7 157.3h1.1M511.0 156.9h0.9M495.8 165.0h3.9M511.0 164.9h4.0M485.6 169.1h1.0M491.7 172.8h0.9M508.4 175.0h1.0M495.8 177.0h1.0M503.0 179.2h4.1M510.7 187.3h2.6M508.0 190.9h1.2M498.2 194.8h2.4M486.9 200.6h1.1M504.7 219.2h1.4M504.4 227.1h1.1M504.3 230.8h1.4M493.4 234.8h1.1M498.3 234.7h1.1M499.2 240.7h0.9M510.6 241.3h2.6M509.6 246.7h2.1M510.8 259.4h1.0M513.5 258.7h0.9M497.0 266.6h0.9M496.1 268.8h1.1M511.6 268.8h2.3M503.1 270.9h3.8M505.7 275.4h1.3M489.8 285.4h1.4M504.7 285.4h1.3M500.6 292.6h2.1M499.5 308.9h1.2M505.4 329.0h1.2M513.4 346.6h1.1M492.2 349.3h1.1M504.8 348.9h1.3M502.3 350.6h2.6M492.3 355.2h1.0M485.6 356.8h2.1M494.3 364.9h1.2M502.1 367.0h2.4M497.0 368.8h2.7M486.7 370.8h1.3M506.6 370.6h1.2M510.9 370.7h1.2M511.1 392.5h1.3M512.1 405.2h2.2M507.0 412.6h2.6M510.8 412.8h2.1M498.3 418.8h1.1M500.6 418.8h1.3M503.6 418.8h2.1M498.2 420.9h1.9M509.6 423.3h3.7M499.9 430.6h1.0M505.4 432.7h1.2M498.3 439.2h1.1M507.2 438.5h1.0M504.8 447.0h1.1M504.4 450.9h0.9M496.8 467.4h1.8M497.3 471.0h2.7M503.5 470.8h1.2M506.1 471.2h1.1M500.9 473.4h2.2M504.8 472.5h2.4M496.9 475.3h2.7M513.1 483.0h1.2M509.6 493.4h2.5M504.6 507.0h1.1M509.8 523.1h2.5M513.4 522.6h1.0M491.6 527.1h2.1M497.0 527.1h2.5M498.4 528.6h1.0M498.0 532.8h1.0M497.0 537.2h2.4" stroke="#fbe144" stroke-width="2.6" stroke-opacity="0.3" fill="none"/>
<path d="M502.0 123.0h12.5M488.2 127.5h1.1M508.2 127.0h6.2M497.3 129.3h1.0M499.5 129.0h15.0M503.2 133.0h8.8M509.5 135.0h5.0M500.5 136.8h1.1M503.0 136.8h3.7M508.2 137.0h5.0M500.8 143.0h5.0M490.8 149.2h1.2M496.7 150.7h1.0M502.0 151.0h12.5M502.0 153.0h12.5M504.5 157.0h5.0M493.4 158.6h1.0M505.8 159.0h5.0M509.5 163.0h5.0M482.0 169.0h1.1M504.5 169.0h5.0M507.0 171.0h5.0M486.8 172.8h1.3M500.7 172.6h1.1M503.2 173.0h5.0M509.5 173.0h5.0M504.6 174.6h1.9M502.0 177.0h5.0M508.2 179.3h3.0M510.4 180.9h3.8M494.5 183.0h6.2M502.0 183.0h11.2M501.1 189.2h1.3M499.5 191.0h7.5M500.8 193.0h2.3M509.5 195.0h5.0M498.0 197.4h1.2M507.0 199.0h7.5M495.6 202.8h0.9M507.2 202.5h1.2M506.8 205.0h1.0M507.0 211.0h7.5M503.2 213.0h5.0M510.7 213.5h1.1M513.0 215.3h1.1M503.2 223.0h5.0M508.2 227.0h6.2M489.5 228.6h1.1M497.9 228.8h1.0M511.1 228.8h1.0M493.5 231.3h1.2M503.2 233.0h8.8M509.5 239.0h5.0M504.5 243.0h10.0M493.2 251.0h5.0M503.2 251.0h10.0M507.0 253.0h5.0M511.8 254.7h1.3M500.8 259.0h8.8M508.2 263.0h6.2M505.8 269.0h5.0M509.5 271.0h5.0M504.5 273.0h8.8M508.2 275.0h6.2M498.4 276.6h1.2M503.0 277.0h2.1M509.5 279.0h5.0M493.0 281.5h1.3M507.0 281.0h6.2M502.0 283.0h5.0M508.2 283.0h5.0M507.0 285.0h6.2M498.3 289.1h2.9M503.2 289.0h10.0M508.4 291.2h1.2M509.5 295.0h5.0M505.8 299.0h8.8M509.5 305.0h5.0M500.9 307.4h0.9M509.5 307.0h5.0M502.0 313.0h11.2M504.9 314.8h1.2M509.5 315.0h5.0M502.0 317.0h6.2M509.5 317.0h5.0M505.8 321.0h7.5M500.5 323.1h1.1M505.8 323.0h7.5M503.2 325.0h5.0M509.5 325.0h5.0M499.5 327.0h8.8M513.6 328.5h1.2M491.9 332.5h1.0M507.0 333.0h5.0M508.2 337.0h5.0M503.2 339.0h5.0M499.5 341.0h13.8M505.8 343.0h6.2M492.0 345.0h10.0M508.2 345.0h6.2M503.2 347.0h5.0M505.8 351.0h5.0M508.2 353.0h5.0M503.2 355.0h11.2M503.0 359.2h2.6M505.8 361.0h6.2M509.5 363.0h5.0M496.9 373.0h0.9M510.9 373.0h1.0M494.5 375.0h5.0M505.8 377.0h8.8M486.9 381.0h1.1M493.4 380.8h1.0M508.2 381.0h6.2M492.0 382.7h1.3M503.2 383.0h7.5M513.0 383.5h1.4M508.2 389.0h5.0M500.8 390.8h1.0M504.5 391.0h10.0M503.2 393.0h6.2M500.8 399.0h6.2M497.2 407.5h1.3M497.1 409.5h1.8M500.8 409.0h6.2M508.2 409.0h6.2M500.8 415.0h5.0M505.7 416.7h1.2M509.5 417.0h5.0M506.7 418.6h0.9M509.5 419.0h5.0M504.6 422.7h1.1M509.5 427.0h5.0M507.0 429.0h6.2M509.5 431.0h5.0M503.0 432.7h1.4M510.6 432.7h1.3M496.7 435.3h1.0M504.5 437.0h5.0M509.5 439.0h5.0M488.4 442.8h0.9M509.5 445.0h5.0M508.0 446.8h2.1M507.0 449.0h5.0M490.8 451.0h5.0M508.2 451.0h6.2M489.3 452.8h2.4M509.5 453.0h5.0M507.0 455.0h5.0M509.5 457.0h5.0M503.6 459.2h2.8M508.2 459.0h6.2M507.0 463.0h7.5M485.9 465.4h1.3M504.9 465.3h2.3M510.4 465.1h2.2M508.2 473.0h5.0M508.2 475.0h6.2M493.2 478.9h1.1M501.7 483.2h3.4M503.0 485.3h1.9M502.0 487.0h6.2M502.2 490.5h4.0M509.5 495.0h5.0M507.0 497.0h7.5M503.2 499.0h5.0M509.5 499.0h5.0M508.2 501.0h6.2M509.5 507.0h5.0M499.2 512.8h1.2M502.0 513.0h12.5M486.8 515.3h1.2M507.0 515.0h5.0M498.3 517.2h1.9M509.5 517.0h5.0M509.5 521.0h5.0M485.8 524.8h1.4M513.6 525.0h1.3M505.8 527.0h8.8M502.9 529.1h2.4M508.2 529.0h6.2M493.5 533.4h1.2M503.3 535.5h2.8M508.2 535.0h6.2M505.9 537.1h0.9M508.4 537.4h3.1M513.4 536.6h1.1" stroke="#fbe144" stroke-width="2" stroke-opacity="0.8" fill="none"/>
<path d="M491.6 124.9h1.2M495.9 126.6h1.3M493.0 129.4h1.0M494.2 133.2h1.3M512.9 133.3h1.1M509.2 139.1h1.1M485.7 143.5h0.9M513.2 143.3h1.0M499.7 147.1h1.0M497.2 155.0h0.9M513.4 158.7h1.3M505.8 162.6h2.1M498.5 172.7h1.2M492.9 177.0h1.2M501.0 179.2h0.9M485.8 180.9h1.0M509.5 184.5h1.2M491.0 187.2h2.1M502.9 189.2h2.7M504.8 201.0h1.3M503.6 204.8h2.6M504.6 206.9h2.8M512.9 206.9h1.1M486.0 215.1h1.4M492.0 218.6h1.0M510.7 220.9h0.9M509.6 223.2h2.4M513.5 223.4h1.0M499.3 227.4h1.1M498.6 245.4h1.1M485.7 258.6h1.3M490.4 262.8h2.4M498.0 263.3h1.1M503.0 262.9h4.0M493.3 269.0h1.2M508.2 277.5h1.0M490.7 279.4h2.8M502.3 280.8h1.0M485.7 282.7h1.0M505.9 286.9h2.2M490.9 291.5h1.4M497.9 296.6h2.5M497.9 298.8h1.0M489.4 300.7h1.3M493.0 309.1h0.9M504.8 310.9h2.0M492.0 312.8h1.1M507.2 315.1h1.1M509.5 318.8h1.0M490.7 335.0h2.6M504.7 334.6h1.3M491.7 343.3h1.4M509.6 348.8h1.0M510.7 358.9h1.3M509.5 369.1h2.2M504.2 381.4h1.1M494.6 389.0h1.3M497.1 391.4h1.0M499.2 401.0h1.2M513.3 411.3h0.9M513.3 414.8h1.2M509.8 421.0h0.9M502.2 424.8h0.9M501.9 436.7h1.4M498.2 440.8h1.1M499.9 445.4h1.1M492.3 454.6h1.2M497.4 456.7h3.1M490.4 462.6h1.0M494.2 467.1h1.1M512.9 469.3h1.1M497.9 477.3h1.3M504.7 477.2h3.4M503.2 479.5h2.9M507.0 490.9h1.2M498.1 499.1h2.6M488.5 506.9h1.3M496.6 508.7h2.2M495.6 512.5h1.0M513.3 514.9h0.9M496.9 519.3h2.3M503.3 518.7h2.0M499.3 522.8h2.2M505.4 525.0h2.7M500.4 528.5h1.1M496.0 535.5h1.3" stroke="#fbe144" stroke-width="2.6" stroke-opacity="0.8" fill="none"/>
<path d="M494.2 124.9h1.0M498.2 126.7h2.0M489.9 128.6h1.4M504.1 134.5h3.0M484.1 138.6h1.0M503.2 139.1h1.1M502.0 146.9h2.4M486.1 149.3h1.3M510.7 169.4h2.0M498.4 179.0h1.3M486.1 183.1h1.2M505.8 192.6h1.1M490.6 199.2h2.5M504.2 214.9h1.4M507.4 220.6h1.0M506.9 231.4h1.4M513.6 233.3h1.2M494.9 247.3h1.3M502.2 252.9h3.2M481.9 254.9h1.1M509.3 255.1h1.3M489.5 257.1h1.1M493.1 270.9h4.0M497.1 274.9h2.9M490.9 283.1h1.3M511.0 290.7h0.9M499.6 294.9h1.3M509.8 300.7h2.3M501.7 302.6h1.4M497.3 321.4h1.0M499.1 320.7h1.1M507.9 334.7h1.4M509.3 339.4h2.7M491.8 341.4h1.4M500.4 343.1h1.0M509.3 347.4h2.4M501.0 363.3h1.3M501.8 364.6h3.4M508.6 367.1h1.0M513.3 368.7h1.0M513.4 370.9h1.1M511.1 374.7h3.1M494.5 379.5h1.1M501.1 386.7h1.4M504.9 389.1h2.7M486.0 393.4h1.1M496.9 395.5h3.8M497.3 399.4h2.5M504.6 400.6h0.9M504.7 407.0h2.7M492.3 408.7h1.1M512.1 425.1h1.1M513.4 441.3h1.0M511.1 442.8h1.3M513.0 448.9h1.3M497.3 452.6h1.4M492.2 459.2h1.0M504.3 463.2h1.3M505.9 467.2h2.2M497.2 473.3h1.0M491.0 480.9h1.1M511.7 481.4h1.1M509.8 483.1h2.2M508.2 485.2h2.9M491.8 486.9h1.2M503.4 501.0h2.4M503.4 514.5h1.1M507.4 517.5h1.1M499.7 525.4h1.3M501.8 527.2h2.7M508.2 530.8h2.9M512.9 531.4h1.0" stroke="#fbe144" stroke-width="1.4" stroke-opacity="0.5" fill="none"/>
<path d="M506.0 124.6h0.9M504.3 127.4h2.2M498.4 130.7h2.2M484.1 136.7h1.4M511.6 139.2h1.0M495.8 142.6h0.9M503.0 144.7h4.0M510.9 144.9h1.0M492.2 150.8h3.3M493.2 169.4h1.2M491.9 188.5h1.0M496.9 201.1h3.6M513.6 202.7h1.1M489.1 205.4h1.1M499.6 217.4h1.1M504.5 216.6h1.3M513.0 216.8h1.1M497.9 218.9h1.3M508.1 219.0h1.0M511.0 218.8h3.7M492.0 220.6h1.3M503.0 221.0h2.2M497.1 223.4h0.9M504.4 225.0h1.9M504.5 228.6h1.3M511.0 235.4h3.6M498.4 237.5h1.9M503.2 237.1h2.3M496.8 238.7h2.5M502.1 239.1h3.6M495.9 240.7h1.2M487.4 247.0h0.9M482.9 249.3h1.3M487.9 254.9h1.3M498.6 259.2h0.9M503.6 261.2h3.6M490.8 266.8h1.3M493.1 272.9h0.9M503.1 274.8h1.0M499.3 278.6h1.3M504.2 280.9h1.1M494.3 283.4h3.5M510.5 287.0h3.0M506.0 294.7h1.2M513.1 296.6h1.0M492.3 299.3h2.0M503.3 299.3h1.4M498.2 300.8h1.2M504.8 303.4h1.0M507.0 308.5h1.8M496.0 313.0h3.6M496.0 318.7h2.3M485.6 330.7h1.3M509.2 330.8h1.9M503.4 333.4h2.3M500.9 335.5h1.0M502.4 349.0h1.2M507.4 349.1h1.3M487.4 350.9h1.3M498.2 352.9h1.3M511.6 357.4h2.4M493.5 361.4h1.3M513.2 361.0h1.0M507.1 365.1h1.3M511.0 365.4h3.8M503.5 378.8h3.7M513.4 379.2h1.2M498.1 382.9h0.9M509.1 395.2h1.9M512.9 397.0h0.9M512.2 407.2h2.6M485.4 419.4h0.9M489.1 418.7h1.2M504.3 420.7h4.1M490.4 424.9h1.0M504.7 424.5h2.2M493.2 427.0h1.2M504.2 430.8h0.9M504.3 434.9h0.9M506.1 440.6h1.8M497.1 442.9h1.3M512.3 446.8h0.9M496.1 459.3h1.2M498.6 469.2h1.2M509.4 471.5h1.9M509.8 478.6h2.7M509.5 481.4h1.0M509.5 486.6h2.8M507.1 489.0h1.9M490.8 490.7h1.2M512.1 491.1h2.5M485.4 492.8h1.2M503.6 503.1h3.7M504.6 505.1h3.8M494.8 506.8h1.0M506.7 506.9h1.0M505.4 511.0h2.8M505.4 520.6h1.3M491.6 529.2h2.5M499.3 531.0h2.7M485.7 533.2h1.3M501.9 537.0h2.6M491.0 538.6h0.9M509.5 539.1h1.0M512.1 539.3h1.9" stroke="#fbe144" stroke-width="2" stroke-opacity="0.3" fill="none"/>
<path d="M493.2 136.9h1.0M510.4 141.1h1.8M505.7 147.5h3.3M496.7 153.3h2.4M502.9 165.1h3.1M513.5 176.6h1.2M481.8 183.0h1.4M489.8 189.2h0.9M497.1 189.0h1.8M508.1 189.2h3.6M504.7 197.2h1.8M498.0 198.9h1.9M503.2 198.9h1.9M503.0 202.9h1.0M498.0 205.2h1.2M509.8 204.9h3.0M492.4 210.7h1.3M491.7 213.1h1.1M495.6 219.2h1.0M484.3 229.4h1.1M503.1 240.7h1.8M496.7 242.6h1.1M507.0 245.0h1.1M509.7 245.2h2.6M493.3 253.0h1.9M504.7 255.3h1.1M509.3 257.3h1.0M509.4 261.0h2.8M494.8 265.1h1.0M502.9 265.2h3.0M510.8 267.3h1.0M489.5 275.2h1.3M497.1 281.2h1.8M502.2 284.6h1.2M495.6 293.1h1.3M510.7 293.0h1.0M505.7 304.7h2.7M496.7 306.5h1.0M488.0 309.5h0.9M491.9 310.6h1.1M513.4 310.7h1.0M494.6 326.6h2.6M499.6 331.1h1.3M497.0 338.6h2.5M485.7 340.7h1.2M503.2 345.1h3.6M490.9 347.3h1.1M492.4 352.7h1.0M496.9 355.1h1.4M500.5 369.1h1.2M504.7 368.8h1.1M507.3 369.2h1.2M495.4 371.1h1.1M507.1 374.9h1.0M497.2 377.0h2.7M498.6 385.4h1.1M511.8 385.4h1.0M493.1 386.6h1.0M504.5 395.4h3.5M496.7 401.0h1.0M507.9 403.4h0.9M493.3 405.0h1.2M503.6 410.6h2.4M503.3 426.8h1.9M508.3 435.4h1.3M512.4 434.9h2.5M503.1 448.5h2.7M504.5 454.8h1.2M490.8 464.6h1.2M504.3 469.4h3.5M492.1 484.7h1.2M510.5 489.3h0.9M501.9 509.1h2.7M492.1 515.4h1.0M508.4 519.3h2.2M503.5 532.6h3.4M509.3 532.9h2.4M492.0 537.1h1.4M504.2 538.8h2.8" stroke="#fbe144" stroke-width="1.4" stroke-opacity="0.8" fill="none"/>
<path d="M505.7 141.4h1.0M508.3 145.0h1.2M512.2 147.2h1.0M499.6 149.2h1.1M497.0 157.1h1.1M498.4 159.4h1.0M492.3 163.3h1.4M503.5 162.7h1.0M509.2 167.2h1.1M498.3 169.2h1.3M495.4 170.8h1.0M496.0 175.2h0.9M498.1 174.6h2.6M499.6 176.6h1.4M496.9 181.3h2.0M506.9 180.8h0.9M505.4 184.6h2.2M513.0 189.2h1.0M503.3 195.5h1.4M505.4 195.3h1.2M509.2 196.7h3.1M494.4 199.0h2.3M491.7 200.6h1.1M510.6 202.9h1.2M513.5 213.2h1.3M509.4 214.6h1.4M506.8 217.3h2.7M508.0 225.2h2.2M486.9 227.1h0.9M503.0 235.0h2.6M510.8 237.3h3.8M486.1 249.2h0.9M504.5 249.1h0.9M498.3 255.4h2.1M491.0 259.0h1.3M485.4 285.4h0.9M491.9 289.0h1.2M495.6 289.2h1.0M503.2 294.9h1.3M507.9 297.0h1.3M487.2 301.4h1.2M505.5 300.8h2.5M492.3 304.9h1.4M504.6 307.1h2.7M511.0 309.1h2.4M498.2 314.8h3.7M487.1 316.8h1.3M505.6 319.1h1.8M498.1 325.1h2.7M487.9 332.7h1.2M494.7 337.2h1.3M493.2 338.7h1.1M498.6 347.1h1.1M484.8 355.3h0.9M504.3 356.9h1.2M506.8 359.2h2.5M492.3 368.5h1.0M503.0 372.8h1.3M504.4 384.7h0.9M496.8 387.4h0.9M491.8 394.6h2.3M493.0 403.4h2.1M503.5 404.9h2.1M497.3 424.5h2.0M485.7 430.9h1.2M499.8 433.4h1.2M491.6 436.9h1.1M493.3 438.9h1.9M503.1 438.8h1.9M510.5 440.9h1.2M498.5 449.1h2.3M501.0 451.0h1.1M503.5 457.2h2.6M502.0 461.1h1.2M513.4 461.2h1.1M491.9 473.2h1.2M504.2 474.9h2.1M509.7 477.2h1.0M501.1 479.0h1.1M492.2 488.5h1.3M497.0 492.6h1.3M499.3 492.5h1.1M502.1 496.9h1.8M497.4 500.6h0.9M500.7 502.8h1.1M502.3 507.3h1.2M510.5 509.4h1.0M498.5 515.1h1.1M500.4 518.6h1.1M503.3 521.2h1.3M495.7 530.5h2.5" stroke="#fbe144" stroke-width="2" stroke-opacity="0.5" fill="none"/></g>
<path d="M519 123.0h27M519 132.7h27M519 142.4h27M519 152.1h27M519 161.8h27M519 171.5h27M519 181.2h27M519 190.9h27M519 200.6h27M519 210.3h27M519 220.0h27M519 229.7h27M519 239.4h27M519 249.1h27M519 258.8h27M519 268.5h27M519 278.2h27M519 287.9h27M519 297.6h27M519 307.3h27M519 317.0h27M519 326.7h27M519 336.4h27M519 346.1h27M519 355.8h27M519 365.5h27M519 375.2h27M519 384.9h27M519 394.6h27M519 404.3h27M519 414.0h27M519 423.7h27M519 433.4h27M519 443.1h27M519 452.8h27M519 462.5h27M519 472.2h27M519 481.9h27M519 491.6h27M519 501.3h27M519 511.0h27M519 520.7h27M519 530.4h27" stroke="#ffd000" stroke-width="3" stroke-opacity="0.08" fill="none"/>
<path d="M313.2 196.0L313.9 199.0L314.6 202.0L315.4 205.0L316.2 208.0L317.0 211.0L317.9 214.0L318.8 217.0L319.8 220.0L320.8 223.0L321.9 226.0L323.0 229.0L324.2 232.0L325.1 234.0" stroke="#ffb020" stroke-width="1.4" stroke-opacity="0.75" fill="none"/>
<path d="M324.2 232.0L325.5 235.0L326.8 238.0L328.2 241.0L329.6 244.0L331.1 247.0L332.8 250.0L334.4 253.0L336.2 256.0L338.1 259.0L340.0 262.0L342.1 265.0L344.2 268.0L346.5 271.0L348.8 274.0L351.3 277.0L353.9 280.0L356.5 283.0L359.3 286.0L362.2 289.0L365.2 292.0L368.3 295.0L371.5 298.0L374.8 301.0L378.2 304.0L381.6 307.0L385.2 310.0L388.8 313.0L392.4 316.0L396.1 319.0L399.8 322.0L403.6 325.0L407.3 328.0L411.0 331.0L414.7 334.0L418.4 337.0L422.0 340.0L425.6 343.0L429.1 346.0L432.6 349.0L435.9 352.0L439.2 355.0L442.3 358.0L445.4 361.0L448.4 364.0L451.2 367.0L454.0 370.0L456.6 373.0L459.1 376.0L461.6 379.0L463.9 382.0L466.1 385.0L468.2 388.0L470.2 391.0L472.2 394.0L474.0 397.0L475.7 400.0L477.4 403.0L479.0 406.0L480.5 409.0L481.9 412.0L483.3 415.0L484.5 418.0L485.8 421.0L486.9 424.0L488.1 427.0L489.1 430.0" stroke="#e03048" stroke-width="1.1" stroke-opacity="0.78" fill="none"/>
<path d="M489.1 430.0L490.1 433.0L491.1 436.0L492.0 439.0L492.8 442.0L493.7 445.0L494.4 448.0L495.2 451.0L495.7 453.0M497.5 460V467" stroke="#f83c20" stroke-width="1.15" stroke-opacity="0.85" fill="none"/>
</g>
<rect x="100.65" y="60.3" width="495.85" height="479.8" fill="none" stroke="#000" stroke-width="1.4"/>
<path d="M100.5 540.5v-6.2M100.5 60.5v6.2M162.5 540.5v-6.2M162.5 60.5v6.2M224.5 540.5v-6.2M224.5 60.5v6.2M286.5 540.5v-6.2M286.5 60.5v6.2M348.5 540.5v-6.2M348.5 60.5v6.2M410.5 540.5v-6.2M410.5 60.5v6.2M472.5 540.5v-6.2M472.5 60.5v6.2M534.5 540.5v-6.2M534.5 60.5v6.2M596.5 540.5v-6.2M596.5 60.5v6.2M100.5 540.5h6.2M596.5 540.5h-6.2M100.5 460.5h6.2M596.5 460.5h-6.2M100.5 380.5h6.2M596.5 380.5h-6.2M100.5 300.5h6.2M596.5 300.5h-6.2M100.5 220.5h6.2M596.5 220.5h-6.2M100.5 140.5h6.2M596.5 140.5h-6.2M100.5 60.5h6.2M596.5 60.5h-6.2" stroke="#000" stroke-width="0.85" fill="none"/>
<text x="99.5" y="557.3" font-size="16.67" text-anchor="middle" letter-spacing="-0.15">−20000</text>
<text x="161.5" y="557.3" font-size="16.67" text-anchor="middle" letter-spacing="-0.15">−15000</text>
<text x="223.5" y="557.3" font-size="16.67" text-anchor="middle" letter-spacing="-0.15">−10000</text>
<text x="285.5" y="557.3" font-size="16.67" text-anchor="middle" letter-spacing="-0.15">−5000</text>
<text x="347.5" y="557.3" font-size="16.67" text-anchor="middle" letter-spacing="-0.15">0</text>
<text x="409.5" y="557.3" font-size="16.67" text-anchor="middle" letter-spacing="-0.15">5000</text>
<text x="471.5" y="557.3" font-size="16.67" text-anchor="middle" letter-spacing="-0.15">10000</text>
<text x="533.5" y="557.3" font-size="16.67" text-anchor="middle" letter-spacing="-0.15">15000</text>
<text x="595.5" y="557.3" font-size="16.67" text-anchor="middle" letter-spacing="-0.15">20000</text>
<text x="95.3" y="546.0" font-size="16.67" text-anchor="end" letter-spacing="-0.45">0</text>
<text x="93.6" y="466.0" font-size="16.67" text-anchor="end" letter-spacing="-0.45">200</text>
<text x="93.6" y="386.0" font-size="16.67" text-anchor="end" letter-spacing="-0.45">400</text>
<text x="93.6" y="306.0" font-size="16.67" text-anchor="end" letter-spacing="-0.45">600</text>
<text x="93.6" y="226.0" font-size="16.67" text-anchor="end" letter-spacing="-0.45">800</text>
<text x="94.1" y="146.0" font-size="16.67" text-anchor="end" letter-spacing="-0.45">1000</text>
<text x="94.1" y="66.0" font-size="16.67" text-anchor="end" letter-spacing="-0.45">1200</text>
<text x="348.3" y="576.5" font-size="16.67" text-anchor="middle">frequency (Hz)</text>
<text transform="translate(44.8,300) rotate(-90)" font-size="16.67" text-anchor="middle">time (s)</text>
<text x="351.5" y="47.8" font-size="20.03" text-anchor="middle">400 MHz signal PSD (20120228_050801_COSMOS2463_TRO)</text>
<rect x="627" y="480" width="24" height="60.5" fill="#0000c8"/>
<rect x="627" y="420" width="24" height="60.5" fill="#0040ff"/>
<rect x="627" y="360" width="24" height="60.5" fill="#00c0ff"/>
<rect x="627" y="300" width="24" height="60.5" fill="#49ffad"/>
<rect x="627" y="240" width="24" height="60.5" fill="#b1ff46"/>
<rect x="627" y="180" width="24" height="60.5" fill="#ffd000"/>
<rect x="627" y="120" width="24" height="60.5" fill="#ff5900"/>
<rect x="627" y="60" width="24" height="60.5" fill="#c40000"/>
<rect x="627.5" y="60.5" width="24" height="480" fill="none" stroke="#000" stroke-width="1"/>
<text x="655" y="545.5" font-size="16.67">−40</text>
<text x="655" y="485.5" font-size="16.67">−35</text>
<text x="655" y="425.5" font-size="16.67">−30</text>
<text x="655" y="365.5" font-size="16.67">−25</text>
<text x="655" y="305.5" font-size="16.67">−20</text>
<text x="655" y="245.5" font-size="16.67">−15</text>
<text x="655" y="185.5" font-size="16.67">−10</text>
<text x="655" y="125.5" font-size="16.67">−5</text>
<text x="655" y="65.5" font-size="16.67">0</text>
<path d="M651.5 540.5h-5.5M651.5 480.5h-5.5M651.5 420.5h-5.5M651.5 360.5h-5.5M651.5 300.5h-5.5M651.5 240.5h-5.5M651.5 180.5h-5.5M651.5 120.5h-5.5M651.5 60.5h-5.5" stroke="#000" stroke-width="1" fill="none"/>
</svg></body></html>
